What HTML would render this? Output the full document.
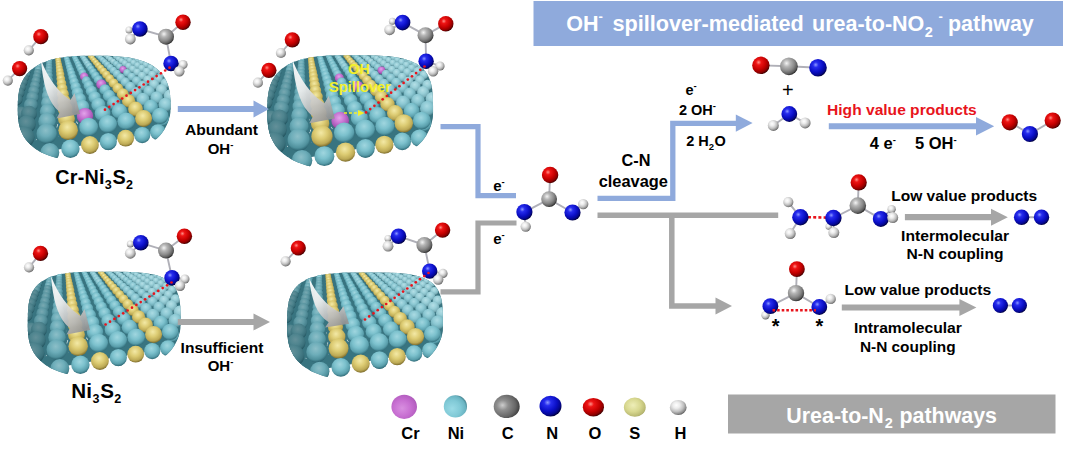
<!DOCTYPE html>
<html><head><meta charset="utf-8"><title>Urea oxidation pathways</title>
<style>
html,body{margin:0;padding:0;background:#fff;}
body{width:1080px;height:449px;overflow:hidden;}
svg{display:block;}
text{font-family:"Liberation Sans",sans-serif;font-weight:bold;}
</style></head><body>
<svg width="1080" height="449" viewBox="0 0 1080 449">
<rect width="1080" height="449" fill="#ffffff"/>
<defs>
<radialGradient id="gNi" cx="0.45" cy="0.34" r="0.66"><stop offset="0" stop-color="#a0d6df"/><stop offset="0.45" stop-color="#7cc1cd"/><stop offset="0.8" stop-color="#5a9fac"/><stop offset="1" stop-color="#2f6b78"/></radialGradient>
<radialGradient id="gS" cx="0.45" cy="0.34" r="0.66"><stop offset="0" stop-color="#f3e9a6"/><stop offset="0.45" stop-color="#dccb72"/><stop offset="0.8" stop-color="#bca955"/><stop offset="1" stop-color="#7d6c2c"/></radialGradient>
<radialGradient id="gCr" cx="0.45" cy="0.34" r="0.66"><stop offset="0" stop-color="#e3a3ea"/><stop offset="0.45" stop-color="#c673d2"/><stop offset="0.8" stop-color="#a455b2"/><stop offset="1" stop-color="#6b2f78"/></radialGradient>
<radialGradient id="mO" cx="0.37" cy="0.33" r="0.7"><stop offset="0" stop-color="#ff9088"/><stop offset="0.22" stop-color="#ee1414"/><stop offset="0.6" stop-color="#c40000"/><stop offset="0.85" stop-color="#8a0000"/><stop offset="1" stop-color="#3c0000"/></radialGradient>
<radialGradient id="mN" cx="0.37" cy="0.33" r="0.7"><stop offset="0" stop-color="#8c98ff"/><stop offset="0.22" stop-color="#262cee"/><stop offset="0.6" stop-color="#0a0ec4"/><stop offset="0.85" stop-color="#04068a"/><stop offset="1" stop-color="#000036"/></radialGradient>
<radialGradient id="mC" cx="0.37" cy="0.33" r="0.7"><stop offset="0" stop-color="#f4f4f4"/><stop offset="0.28" stop-color="#b6b6b6"/><stop offset="0.62" stop-color="#8a8a8a"/><stop offset="0.86" stop-color="#5c5c5c"/><stop offset="1" stop-color="#262626"/></radialGradient>
<radialGradient id="mH" cx="0.39" cy="0.35" r="0.7"><stop offset="0" stop-color="#ffffff"/><stop offset="0.3" stop-color="#ececec"/><stop offset="0.62" stop-color="#c0c0c0"/><stop offset="0.85" stop-color="#8a8a8a"/><stop offset="1" stop-color="#4c4c4c"/></radialGradient>
<radialGradient id="lCr" cx="0.42" cy="0.56" r="0.66"><stop offset="0" stop-color="#d88fe0"/><stop offset="0.5" stop-color="#c870d2"/><stop offset="0.85" stop-color="#b45ec0"/><stop offset="1" stop-color="#9248a0"/></radialGradient>
<radialGradient id="lNi" cx="0.36" cy="0.6" r="0.74"><stop offset="0" stop-color="#9adbe6"/><stop offset="0.5" stop-color="#80c9d6"/><stop offset="0.78" stop-color="#6ab4c2"/><stop offset="0.9" stop-color="#468692"/><stop offset="0.97" stop-color="#1c424a"/><stop offset="1" stop-color="#081418"/></radialGradient>
<radialGradient id="lC" cx="0.34" cy="0.45" r="0.72"><stop offset="0" stop-color="#cdcdcd"/><stop offset="0.3" stop-color="#8f8f8f"/><stop offset="0.7" stop-color="#666666"/><stop offset="0.9" stop-color="#444444"/><stop offset="1" stop-color="#202020"/></radialGradient>
<radialGradient id="lS" cx="0.42" cy="0.4" r="0.68"><stop offset="0" stop-color="#eeeeb8"/><stop offset="0.5" stop-color="#d8d890"/><stop offset="0.85" stop-color="#b9b972"/><stop offset="1" stop-color="#85853f"/></radialGradient>
<linearGradient id="swoosh" x1="0.2" y1="0" x2="0.7" y2="1"><stop offset="0" stop-color="#ffffff"/><stop offset="0.4" stop-color="#ececec"/><stop offset="0.75" stop-color="#bcbcbc"/><stop offset="1" stop-color="#949494"/></linearGradient>
<radialGradient id="gNi1" cx="0.45" cy="0.34" r="0.66"><stop offset="0" stop-color="#8cbfc8"/><stop offset="0.45" stop-color="#6dadb9"/><stop offset="0.8" stop-color="#4f909c"/><stop offset="1" stop-color="#2a626f"/></radialGradient>
<radialGradient id="gNi2" cx="0.45" cy="0.34" r="0.66"><stop offset="0" stop-color="#78a9b2"/><stop offset="0.45" stop-color="#5e99a4"/><stop offset="0.8" stop-color="#45808c"/><stop offset="1" stop-color="#255a65"/></radialGradient>
<radialGradient id="gNi3" cx="0.45" cy="0.34" r="0.66"><stop offset="0" stop-color="#639099"/><stop offset="0.45" stop-color="#4e848e"/><stop offset="0.8" stop-color="#396f7a"/><stop offset="1" stop-color="#1f505b"/></radialGradient>
<radialGradient id="gNi4" cx="0.45" cy="0.34" r="0.66"><stop offset="0" stop-color="#abdbe3"/><stop offset="0.45" stop-color="#8cc8d3"/><stop offset="0.8" stop-color="#6eabb6"/><stop offset="1" stop-color="#487d88"/></radialGradient>
<radialGradient id="gNi5" cx="0.45" cy="0.34" r="0.66"><stop offset="0" stop-color="#b5dfe6"/><stop offset="0.45" stop-color="#99cfd8"/><stop offset="0.8" stop-color="#7eb4be"/><stop offset="1" stop-color="#5d8c96"/></radialGradient>
<clipPath id="c1"><path d="M170.6 108.5 L170.4 112 L169.9 115.4 L169.1 118.8 L168 122.2 L166.5 125.5 L164.8 128.7 L162.7 131.9 L160.4 134.9 L157.7 137.8 L154.8 140.6 L151.6 143.3 L148.2 145.8 L144.6 148.2 L140.7 150.4 L136.6 152.4 L132.4 154.2 L128 155.9 L123.4 157.3 L118.8 158.5 L114 159.5 L109.1 160.3 L104.2 160.8 L99.2 161.2 L94.2 161.3 L84.8 161.2 L78.2 161 L72.5 160.5 L67.2 159.9 L62.3 159.1 L57.7 158.2 L53.4 157.1 L49.4 155.8 L45.6 154.3 L42 152.7 L38.7 150.9 L35.7 148.9 L32.9 146.8 L30.3 144.5 L27.9 142.1 L25.8 139.5 L23.9 136.7 L22.3 133.7 L20.9 130.6 L19.8 127.2 L18.9 123.5 L18.3 119.5 L17.9 115 L17.8 108.5 L17.9 101 L18.3 96.2 L18.9 92.1 L19.7 88.4 L20.7 85 L22 81.9 L23.5 79 L25.3 76.3 L27.2 73.8 L29.4 71.5 L31.9 69.3 L34.6 67.3 L37.5 65.4 L40.6 63.7 L44 62.2 L47.6 60.9 L51.5 59.6 L55.7 58.6 L60.2 57.7 L65.1 57 L70.4 56.4 L76.4 56 L83.3 55.8 L94.2 55.7 L105.8 55.8 L113 56 L119 56.4 L124.3 56.9 L129.1 57.6 L133.6 58.5 L137.7 59.5 L141.6 60.7 L145.1 62 L148.5 63.5 L151.5 65.1 L154.4 66.9 L157 68.9 L159.3 71 L161.5 73.3 L163.4 75.8 L165.1 78.4 L166.5 81.3 L167.8 84.4 L168.8 87.7 L169.6 91.4 L170.1 95.5 L170.5 100.4Z"/></clipPath>
<clipPath id="c2"><path d="M170.6 108.5 L170.4 112 L169.9 115.4 L169.1 118.8 L168 122.2 L166.5 125.5 L164.8 128.7 L162.7 131.9 L160.4 134.9 L157.7 137.8 L154.8 140.6 L151.6 143.3 L148.2 145.8 L144.6 148.2 L140.7 150.4 L136.6 152.4 L132.4 154.2 L128 155.9 L123.4 157.3 L118.8 158.5 L114 159.5 L109.1 160.3 L104.2 160.8 L99.2 161.2 L94.2 161.3 L84.8 161.2 L78.2 161 L72.5 160.5 L67.2 159.9 L62.3 159.1 L57.7 158.2 L53.4 157.1 L49.4 155.8 L45.6 154.3 L42 152.7 L38.7 150.9 L35.7 148.9 L32.9 146.8 L30.3 144.5 L27.9 142.1 L25.8 139.5 L23.9 136.7 L22.3 133.7 L20.9 130.6 L19.8 127.2 L18.9 123.5 L18.3 119.5 L17.9 115 L17.8 108.5 L17.9 99.9 L18.2 94.9 L18.8 90.7 L19.5 87.1 L20.5 83.7 L21.7 80.7 L23.1 77.8 L24.8 75.2 L26.6 72.8 L28.7 70.6 L31 68.5 L33.6 66.6 L36.3 64.8 L39.3 63.3 L42.6 61.8 L46.1 60.5 L49.8 59.4 L53.9 58.4 L58.3 57.6 L63.2 56.9 L68.5 56.4 L74.5 56 L81.8 55.8 L94.2 55.7 L111 55.8 L118.8 56 L125 56.3 L130.3 56.7 L134.9 57.3 L139 58 L142.8 58.8 L146.2 59.8 L149.3 60.8 L152.2 62.1 L154.8 63.4 L157.2 64.9 L159.4 66.6 L161.4 68.4 L163.2 70.4 L164.7 72.6 L166.1 74.9 L167.3 77.5 L168.3 80.4 L169.1 83.6 L169.8 87.2 L170.2 91.5 L170.5 96.9Z"/></clipPath>
<clipPath id="c3"><path d="M170.6 108.5 L170.4 112 L169.9 115.4 L169.1 118.8 L168 122.2 L166.5 125.5 L164.8 128.7 L162.7 131.9 L160.4 134.9 L157.7 137.8 L154.8 140.6 L151.6 143.3 L148.2 145.8 L144.6 148.2 L140.7 150.4 L136.6 152.4 L132.4 154.2 L128 155.9 L123.4 157.3 L118.8 158.5 L114 159.5 L109.1 160.3 L104.2 160.8 L99.2 161.2 L94.2 161.3 L84.8 161.2 L78.2 161 L72.5 160.5 L67.2 159.9 L62.3 159.1 L57.7 158.2 L53.4 157.1 L49.4 155.8 L45.6 154.3 L42 152.7 L38.7 150.9 L35.7 148.9 L32.9 146.8 L30.3 144.5 L27.9 142.1 L25.8 139.5 L23.9 136.7 L22.3 133.7 L20.9 130.6 L19.8 127.2 L18.9 123.5 L18.3 119.5 L17.9 115 L17.8 108.5 L17.9 97.9 L18.2 92.6 L18.7 88.3 L19.3 84.7 L20.2 81.4 L21.3 78.5 L22.5 75.8 L24 73.4 L25.7 71.1 L27.5 69.1 L29.6 67.2 L31.9 65.4 L34.4 63.9 L37.1 62.4 L40.1 61.1 L43.4 60 L46.9 59 L50.8 58.1 L55 57.4 L59.7 56.8 L65 56.3 L71.1 56 L78.8 55.8 L94.2 55.7 L112.4 55.8 L120.4 55.9 L126.5 56.2 L131.7 56.7 L136.2 57.2 L140.3 57.9 L143.9 58.6 L147.2 59.5 L150.3 60.6 L153 61.8 L155.6 63.1 L157.9 64.5 L160 66.1 L161.8 67.8 L163.5 69.7 L165 71.8 L166.3 74.1 L167.5 76.7 L168.4 79.4 L169.2 82.6 L169.8 86.2 L170.3 90.4 L170.5 95.9Z"/></clipPath>
<clipPath id="c4"><path d="M170.6 108.5 L170.4 112 L169.9 115.4 L169.1 118.8 L168 122.2 L166.5 125.5 L164.8 128.7 L162.7 131.9 L160.4 134.9 L157.7 137.8 L154.8 140.6 L151.6 143.3 L148.2 145.8 L144.6 148.2 L140.7 150.4 L136.6 152.4 L132.4 154.2 L128 155.9 L123.4 157.3 L118.8 158.5 L114 159.5 L109.1 160.3 L104.2 160.8 L99.2 161.2 L94.2 161.3 L84.8 161.2 L78.2 161 L72.5 160.5 L67.2 159.9 L62.3 159.1 L57.7 158.2 L53.4 157.1 L49.4 155.8 L45.6 154.3 L42 152.7 L38.7 150.9 L35.7 148.9 L32.9 146.8 L30.3 144.5 L27.9 142.1 L25.8 139.5 L23.9 136.7 L22.3 133.7 L20.9 130.6 L19.8 127.2 L18.9 123.5 L18.3 119.5 L17.9 115 L17.8 108.5 L17.9 97.9 L18.2 92.6 L18.7 88.3 L19.3 84.7 L20.2 81.4 L21.3 78.5 L22.5 75.8 L24 73.4 L25.7 71.1 L27.5 69.1 L29.6 67.2 L31.9 65.4 L34.4 63.9 L37.1 62.4 L40.1 61.1 L43.4 60 L46.9 59 L50.8 58.1 L55 57.4 L59.7 56.8 L65 56.3 L71.1 56 L78.8 55.8 L94.2 55.7 L112.4 55.8 L120.4 55.9 L126.5 56.2 L131.7 56.7 L136.2 57.2 L140.3 57.9 L143.9 58.6 L147.2 59.5 L150.3 60.6 L153 61.8 L155.6 63.1 L157.9 64.5 L160 66.1 L161.8 67.8 L163.5 69.7 L165 71.8 L166.3 74.1 L167.5 76.7 L168.4 79.4 L169.2 82.6 L169.8 86.2 L170.3 90.4 L170.5 95.9Z"/></clipPath>
<g id="slabNi"><g>
<path d="M49.4 56.7m-4.5 0a4.5 4.5 0 1 0 8.9 0a4.5 4.5 0 1 0 -8.9 0M57.6 56.2m-4.4 0a4.4 4.4 0 1 0 8.8 0a4.4 4.4 0 1 0 -8.8 0M65.7 55.7m-4.4 0a4.4 4.4 0 1 0 8.7 0a4.4 4.4 0 1 0 -8.7 0M73.5 55.2m-4.3 0a4.3 4.3 0 1 0 8.6 0a4.3 4.3 0 1 0 -8.6 0M40.5 59.2m-4.7 0a4.7 4.7 0 1 0 9.4 0a4.7 4.7 0 1 0 -9.4 0M49.3 58.7m-4.7 0a4.7 4.7 0 1 0 9.3 0a4.7 4.7 0 1 0 -9.3 0M57.9 58.2m-4.6 0a4.6 4.6 0 1 0 9.2 0a4.6 4.6 0 1 0 -9.2 0M66.3 57.6m-4.6 0a4.6 4.6 0 1 0 9.1 0a4.6 4.6 0 1 0 -9.1 0M74.5 57.1m-4.5 0a4.5 4.5 0 1 0 9 0a4.5 4.5 0 1 0 -9 0M82.5 56.6m-4.5 0a4.5 4.5 0 1 0 8.9 0a4.5 4.5 0 1 0 -8.9 0M90.4 56.1m-4.4 0a4.4 4.4 0 1 0 8.8 0a4.4 4.4 0 1 0 -8.8 0M98.1 55.7m-4.4 0a4.4 4.4 0 1 0 8.7 0a4.4 4.4 0 1 0 -8.7 0M105.6 55.2m-4.3 0a4.3 4.3 0 1 0 8.6 0a4.3 4.3 0 1 0 -8.6 0M30.7 62.1m-5 0a5 5 0 1 0 10 0a5 5 0 1 0 -10 0M40.1 61.5m-4.9 0a4.9 4.9 0 1 0 9.8 0a4.9 4.9 0 1 0 -9.8 0M49.2 60.9m-4.9 0a4.9 4.9 0 1 0 9.7 0a4.9 4.9 0 1 0 -9.7 0M58.2 60.3m-4.8 0a4.8 4.8 0 1 0 9.6 0a4.8 4.8 0 1 0 -9.6 0M67 59.7m-4.8 0a4.8 4.8 0 1 0 9.5 0a4.8 4.8 0 1 0 -9.5 0M75.5 59.2m-4.7 0a4.7 4.7 0 1 0 9.4 0a4.7 4.7 0 1 0 -9.4 0M83.9 58.7m-4.7 0a4.7 4.7 0 1 0 9.3 0a4.7 4.7 0 1 0 -9.3 0M92.1 58.1m-4.6 0a4.6 4.6 0 1 0 9.2 0a4.6 4.6 0 1 0 -9.2 0M100.1 57.6m-4.6 0a4.6 4.6 0 1 0 9.1 0a4.6 4.6 0 1 0 -9.1 0M107.9 57.1m-4.5 0a4.5 4.5 0 1 0 9 0a4.5 4.5 0 1 0 -9 0M115.6 56.6m-4.5 0a4.5 4.5 0 1 0 8.9 0a4.5 4.5 0 1 0 -8.9 0M123.1 56.1m-4.4 0a4.4 4.4 0 1 0 8.8 0a4.4 4.4 0 1 0 -8.8 0M29.7 64.6m-5.2 0a5.2 5.2 0 1 0 10.4 0a5.2 5.2 0 1 0 -10.4 0M39.5 64m-5.2 0a5.2 5.2 0 1 0 10.3 0a5.2 5.2 0 1 0 -10.3 0M49.2 63.3m-5.1 0a5.1 5.1 0 1 0 10.2 0a5.1 5.1 0 1 0 -10.2 0M58.5 62.7m-5 0a5 5 0 1 0 10.1 0a5 5 0 1 0 -10.1 0M67.7 62.1m-5 0a5 5 0 1 0 10 0a5 5 0 1 0 -10 0M76.6 61.4m-4.9 0a4.9 4.9 0 1 0 9.8 0a4.9 4.9 0 1 0 -9.8 0M85.4 60.9m-4.9 0a4.9 4.9 0 1 0 9.7 0a4.9 4.9 0 1 0 -9.7 0M93.9 60.3m-4.8 0a4.8 4.8 0 1 0 9.6 0a4.8 4.8 0 1 0 -9.6 0M102.3 59.7m-4.8 0a4.8 4.8 0 1 0 9.5 0a4.8 4.8 0 1 0 -9.5 0M110.4 59.2m-4.7 0a4.7 4.7 0 1 0 9.4 0a4.7 4.7 0 1 0 -9.4 0M118.4 58.6m-4.6 0a4.6 4.6 0 1 0 9.3 0a4.6 4.6 0 1 0 -9.3 0M126.2 58.1m-4.6 0a4.6 4.6 0 1 0 9.2 0a4.6 4.6 0 1 0 -9.2 0M133.9 57.6m-4.5 0a4.5 4.5 0 1 0 9.1 0a4.5 4.5 0 1 0 -9.1 0M28.6 67.4m-5.5 0a5.5 5.5 0 1 0 11 0a5.5 5.5 0 1 0 -11 0M39 66.7m-5.4 0a5.4 5.4 0 1 0 10.8 0a5.4 5.4 0 1 0 -10.8 0M49.1 66m-5.3 0a5.3 5.3 0 1 0 10.7 0a5.3 5.3 0 1 0 -10.7 0M58.9 65.3m-5.3 0a5.3 5.3 0 1 0 10.6 0a5.3 5.3 0 1 0 -10.6 0M68.5 64.6m-5.2 0a5.2 5.2 0 1 0 10.4 0a5.2 5.2 0 1 0 -10.4 0M77.9 63.9m-5.2 0a5.2 5.2 0 1 0 10.3 0a5.2 5.2 0 1 0 -10.3 0M87 63.3m-5.1 0a5.1 5.1 0 1 0 10.2 0a5.1 5.1 0 1 0 -10.2 0M95.9 62.6m-5 0a5 5 0 1 0 10.1 0a5 5 0 1 0 -10.1 0M104.6 62m-5 0a5 5 0 1 0 9.9 0a5 5 0 1 0 -9.9 0M113.1 61.4m-4.9 0a4.9 4.9 0 1 0 9.8 0a4.9 4.9 0 1 0 -9.8 0M121.5 60.8m-4.9 0a4.9 4.9 0 1 0 9.7 0a4.9 4.9 0 1 0 -9.7 0M129.6 60.2m-4.8 0a4.8 4.8 0 1 0 9.6 0a4.8 4.8 0 1 0 -9.6 0M137.5 59.7m-4.7 0a4.7 4.7 0 1 0 9.5 0a4.7 4.7 0 1 0 -9.5 0M145.3 59.1m-4.7 0a4.7 4.7 0 1 0 9.4 0a4.7 4.7 0 1 0 -9.4 0M27.4 70.5m-5.8 0a5.8 5.8 0 1 0 11.6 0a5.8 5.8 0 1 0 -11.6 0M38.3 69.7m-5.7 0a5.7 5.7 0 1 0 11.4 0a5.7 5.7 0 1 0 -11.4 0M49 68.9m-5.6 0a5.6 5.6 0 1 0 11.3 0a5.6 5.6 0 1 0 -11.3 0M59.3 68.1m-5.6 0a5.6 5.6 0 1 0 11.1 0a5.6 5.6 0 1 0 -11.1 0M69.4 67.4m-5.5 0a5.5 5.5 0 1 0 11 0a5.5 5.5 0 1 0 -11 0M79.2 66.6m-5.4 0a5.4 5.4 0 1 0 10.8 0a5.4 5.4 0 1 0 -10.8 0M88.8 65.9m-5.3 0a5.3 5.3 0 1 0 10.7 0a5.3 5.3 0 1 0 -10.7 0M98.1 65.2m-5.3 0a5.3 5.3 0 1 0 10.6 0a5.3 5.3 0 1 0 -10.6 0M107.2 64.5m-5.2 0a5.2 5.2 0 1 0 10.4 0a5.2 5.2 0 1 0 -10.4 0M116.1 63.9m-5.1 0a5.1 5.1 0 1 0 10.3 0a5.1 5.1 0 1 0 -10.3 0M124.8 63.2m-5.1 0a5.1 5.1 0 1 0 10.2 0a5.1 5.1 0 1 0 -10.2 0M133.3 62.6m-5 0a5 5 0 1 0 10.1 0a5 5 0 1 0 -10.1 0M141.5 62m-5 0a5 5 0 1 0 9.9 0a5 5 0 1 0 -9.9 0M149.6 61.4m-4.9 0a4.9 4.9 0 1 0 9.8 0a4.9 4.9 0 1 0 -9.8 0M26.1 73.9m-6.1 0a6.1 6.1 0 1 0 12.2 0a6.1 6.1 0 1 0 -12.2 0M37.6 73m-6 0a6 6 0 1 0 12.1 0a6 6 0 1 0 -12.1 0M48.8 72.1m-5.9 0a5.9 5.9 0 1 0 11.9 0a5.9 5.9 0 1 0 -11.9 0M59.8 71.3m-5.9 0a5.9 5.9 0 1 0 11.7 0a5.9 5.9 0 1 0 -11.7 0M70.4 70.4m-5.8 0a5.8 5.8 0 1 0 11.6 0a5.8 5.8 0 1 0 -11.6 0M80.7 69.6m-5.7 0a5.7 5.7 0 1 0 11.4 0a5.7 5.7 0 1 0 -11.4 0M90.8 68.8m-5.6 0a5.6 5.6 0 1 0 11.2 0a5.6 5.6 0 1 0 -11.2 0M100.6 68.1m-5.6 0a5.6 5.6 0 1 0 11.1 0a5.6 5.6 0 1 0 -11.1 0M110.1 67.3m-5.5 0a5.5 5.5 0 1 0 11 0a5.5 5.5 0 1 0 -11 0M119.4 66.6m-5.4 0a5.4 5.4 0 1 0 10.8 0a5.4 5.4 0 1 0 -10.8 0M128.5 65.9m-5.3 0a5.3 5.3 0 1 0 10.7 0a5.3 5.3 0 1 0 -10.7 0M137.3 65.2m-5.3 0a5.3 5.3 0 1 0 10.5 0a5.3 5.3 0 1 0 -10.5 0M145.9 64.5m-5.2 0a5.2 5.2 0 1 0 10.4 0a5.2 5.2 0 1 0 -10.4 0M154.3 63.8m-5.1 0a5.1 5.1 0 1 0 10.3 0a5.1 5.1 0 1 0 -10.3 0M24.6 77.8m-6.5 0a6.5 6.5 0 1 0 13 0a6.5 6.5 0 1 0 -13 0M36.8 76.8m-6.4 0a6.4 6.4 0 1 0 12.8 0a6.4 6.4 0 1 0 -12.8 0M48.7 75.8m-6.3 0a6.3 6.3 0 1 0 12.6 0a6.3 6.3 0 1 0 -12.6 0M60.3 74.8m-6.2 0a6.2 6.2 0 1 0 12.4 0a6.2 6.2 0 1 0 -12.4 0M71.5 73.9m-6.1 0a6.1 6.1 0 1 0 12.2 0a6.1 6.1 0 1 0 -12.2 0M82.4 73m-6 0a6 6 0 1 0 12 0a6 6 0 1 0 -12 0M93 72.1m-5.9 0a5.9 5.9 0 1 0 11.9 0a5.9 5.9 0 1 0 -11.9 0M103.3 71.2m-5.9 0a5.9 5.9 0 1 0 11.7 0a5.9 5.9 0 1 0 -11.7 0M113.3 70.4m-5.8 0a5.8 5.8 0 1 0 11.5 0a5.8 5.8 0 1 0 -11.5 0M123 69.6m-5.7 0a5.7 5.7 0 1 0 11.4 0a5.7 5.7 0 1 0 -11.4 0M132.5 68.8m-5.6 0a5.6 5.6 0 1 0 11.2 0a5.6 5.6 0 1 0 -11.2 0M141.7 68m-5.5 0a5.5 5.5 0 1 0 11.1 0a5.5 5.5 0 1 0 -11.1 0M150.7 67.3m-5.5 0a5.5 5.5 0 1 0 10.9 0a5.5 5.5 0 1 0 -10.9 0M159.5 66.5m-5.4 0a5.4 5.4 0 1 0 10.8 0a5.4 5.4 0 1 0 -10.8 0M22.9 82.1m-6.9 0a6.9 6.9 0 1 0 13.8 0a6.9 6.9 0 1 0 -13.8 0M35.9 81m-6.8 0a6.8 6.8 0 1 0 13.6 0a6.8 6.8 0 1 0 -13.6 0M48.6 79.9m-6.7 0a6.7 6.7 0 1 0 13.4 0a6.7 6.7 0 1 0 -13.4 0M60.8 78.8m-6.6 0a6.6 6.6 0 1 0 13.2 0a6.6 6.6 0 1 0 -13.2 0M72.7 77.7m-6.5 0a6.5 6.5 0 1 0 12.9 0a6.5 6.5 0 1 0 -12.9 0M84.2 76.7m-6.4 0a6.4 6.4 0 1 0 12.8 0a6.4 6.4 0 1 0 -12.8 0M95.4 75.7m-6.3 0a6.3 6.3 0 1 0 12.6 0a6.3 6.3 0 1 0 -12.6 0M106.3 74.8m-6.2 0a6.2 6.2 0 1 0 12.4 0a6.2 6.2 0 1 0 -12.4 0M116.8 73.8m-6.1 0a6.1 6.1 0 1 0 12.2 0a6.1 6.1 0 1 0 -12.2 0M127.1 72.9m-6 0a6 6 0 1 0 12 0a6 6 0 1 0 -12 0M137 72m-5.9 0a5.9 5.9 0 1 0 11.9 0a5.9 5.9 0 1 0 -11.9 0M146.7 71.2m-5.8 0a5.8 5.8 0 1 0 11.7 0a5.8 5.8 0 1 0 -11.7 0M156.1 70.3m-5.8 0a5.8 5.8 0 1 0 11.5 0a5.8 5.8 0 1 0 -11.5 0M20.9 87.1m-7.4 0a7.4 7.4 0 1 0 14.7 0a7.4 7.4 0 1 0 -14.7 0M34.9 85.8m-7.2 0a7.2 7.2 0 1 0 14.5 0a7.2 7.2 0 1 0 -14.5 0M48.4 84.5m-7.1 0a7.1 7.1 0 1 0 14.2 0a7.1 7.1 0 1 0 -14.2 0M61.5 83.3m-7 0a7 7 0 1 0 14 0a7 7 0 1 0 -14 0M74.1 82.1m-6.9 0a6.9 6.9 0 1 0 13.8 0a6.9 6.9 0 1 0 -13.8 0M86.3 80.9m-6.8 0a6.8 6.8 0 1 0 13.6 0a6.8 6.8 0 1 0 -13.6 0M98.2 79.8m-6.7 0a6.7 6.7 0 1 0 13.3 0a6.7 6.7 0 1 0 -13.3 0M109.7 78.7m-6.6 0a6.6 6.6 0 1 0 13.1 0a6.6 6.6 0 1 0 -13.1 0M120.8 77.7m-6.5 0a6.5 6.5 0 1 0 12.9 0a6.5 6.5 0 1 0 -12.9 0M131.6 76.6m-6.4 0a6.4 6.4 0 1 0 12.7 0a6.4 6.4 0 1 0 -12.7 0M142 75.7m-6.3 0a6.3 6.3 0 1 0 12.6 0a6.3 6.3 0 1 0 -12.6 0M152.2 74.7m-6.2 0a6.2 6.2 0 1 0 12.4 0a6.2 6.2 0 1 0 -12.4 0M162.1 73.8m-6.1 0a6.1 6.1 0 1 0 12.2 0a6.1 6.1 0 1 0 -12.2 0M18.7 92.8m-7.9 0a7.9 7.9 0 1 0 15.8 0a7.9 7.9 0 1 0 -15.8 0M33.7 91.2m-7.8 0a7.8 7.8 0 1 0 15.5 0a7.8 7.8 0 1 0 -15.5 0M48.2 89.8m-7.6 0a7.6 7.6 0 1 0 15.3 0a7.6 7.6 0 1 0 -15.3 0M62.2 88.4m-7.5 0a7.5 7.5 0 1 0 15 0a7.5 7.5 0 1 0 -15 0M75.7 87m-7.4 0a7.4 7.4 0 1 0 14.7 0a7.4 7.4 0 1 0 -14.7 0M88.7 85.7m-7.2 0a7.2 7.2 0 1 0 14.5 0a7.2 7.2 0 1 0 -14.5 0M101.3 84.4m-7.1 0a7.1 7.1 0 1 0 14.2 0a7.1 7.1 0 1 0 -14.2 0M113.5 83.2m-7 0a7 7 0 1 0 14 0a7 7 0 1 0 -14 0M125.2 82m-6.9 0a6.9 6.9 0 1 0 13.8 0a6.9 6.9 0 1 0 -13.8 0M136.6 80.8m-6.8 0a6.8 6.8 0 1 0 13.5 0a6.8 6.8 0 1 0 -13.5 0M147.7 79.7m-6.7 0a6.7 6.7 0 1 0 13.3 0a6.7 6.7 0 1 0 -13.3 0M158.4 78.6m-6.6 0a6.6 6.6 0 1 0 13.1 0a6.6 6.6 0 1 0 -13.1 0M16.2 99.3m-8.5 0a8.5 8.5 0 1 0 17.1 0a8.5 8.5 0 1 0 -17.1 0M32.4 97.6m-8.4 0a8.4 8.4 0 1 0 16.7 0a8.4 8.4 0 1 0 -16.7 0M48 95.9m-8.2 0a8.2 8.2 0 1 0 16.4 0a8.2 8.2 0 1 0 -16.4 0M63 94.2m-8.1 0a8.1 8.1 0 1 0 16.1 0a8.1 8.1 0 1 0 -16.1 0M77.5 92.7m-7.9 0a7.9 7.9 0 1 0 15.8 0a7.9 7.9 0 1 0 -15.8 0M91.4 91.2m-7.8 0a7.8 7.8 0 1 0 15.5 0a7.8 7.8 0 1 0 -15.5 0M104.9 89.7m-7.6 0a7.6 7.6 0 1 0 15.2 0a7.6 7.6 0 1 0 -15.2 0M117.8 88.3m-7.5 0a7.5 7.5 0 1 0 15 0a7.5 7.5 0 1 0 -15 0M130.3 86.9m-7.4 0a7.4 7.4 0 1 0 14.7 0a7.4 7.4 0 1 0 -14.7 0M142.4 85.6m-7.2 0a7.2 7.2 0 1 0 14.5 0a7.2 7.2 0 1 0 -14.5 0M154.1 84.3m-7.1 0a7.1 7.1 0 1 0 14.2 0a7.1 7.1 0 1 0 -14.2 0M165.4 83.1m-7 0a7 7 0 1 0 14 0a7 7 0 1 0 -14 0M18.6 107.3m-7.2 0a7.2 7.2 0 1 0 14.4 0a7.2 7.2 0 1 0 -14.4 0M21.1 113m-5.8 0a5.8 5.8 0 1 0 11.6 0a5.8 5.8 0 1 0 -11.6 0M30.8 105m-9.1 0a9.1 9.1 0 1 0 18.2 0a9.1 9.1 0 1 0 -18.2 0M47.8 103m-8.9 0a8.9 8.9 0 1 0 17.8 0a8.9 8.9 0 1 0 -17.8 0M64 101.1m-8.7 0a8.7 8.7 0 1 0 17.4 0a8.7 8.7 0 1 0 -17.4 0M79.6 99.2m-8.5 0a8.5 8.5 0 1 0 17.1 0a8.5 8.5 0 1 0 -17.1 0M94.6 97.5m-8.4 0a8.4 8.4 0 1 0 16.7 0a8.4 8.4 0 1 0 -16.7 0M109 95.8m-8.2 0a8.2 8.2 0 1 0 16.4 0a8.2 8.2 0 1 0 -16.4 0M122.8 94.1m-8 0a8 8 0 1 0 16.1 0a8 8 0 1 0 -16.1 0M136.1 92.6m-7.9 0a7.9 7.9 0 1 0 15.8 0a7.9 7.9 0 1 0 -15.8 0M149 91.1m-7.7 0a7.7 7.7 0 1 0 15.5 0a7.7 7.7 0 1 0 -15.5 0M161.4 89.6m-7.6 0a7.6 7.6 0 1 0 15.2 0a7.6 7.6 0 1 0 -15.2 0M29 113.7m-9.9 0a9.9 9.9 0 1 0 19.8 0a9.9 9.9 0 1 0 -19.8 0M47.5 111.4m-9.7 0a9.7 9.7 0 1 0 19.4 0a9.7 9.7 0 1 0 -19.4 0M65.2 109.1m-9.5 0a9.5 9.5 0 1 0 18.9 0a9.5 9.5 0 1 0 -18.9 0M82.1 106.9m-9.3 0a9.3 9.3 0 1 0 18.5 0a9.3 9.3 0 1 0 -18.5 0M98.3 104.8m-9.1 0a9.1 9.1 0 1 0 18.1 0a9.1 9.1 0 1 0 -18.1 0M113.8 102.9m-8.9 0a8.9 8.9 0 1 0 17.8 0a8.9 8.9 0 1 0 -17.8 0M128.6 100.9m-8.7 0a8.7 8.7 0 1 0 17.4 0a8.7 8.7 0 1 0 -17.4 0M142.9 99.1m-8.5 0a8.5 8.5 0 1 0 17 0a8.5 8.5 0 1 0 -17 0M156.6 97.4m-8.4 0a8.4 8.4 0 1 0 16.7 0a8.4 8.4 0 1 0 -16.7 0M169.8 95.7m-8.2 0a8.2 8.2 0 1 0 16.4 0a8.2 8.2 0 1 0 -16.4 0M26.7 124.3m-10.9 0a10.9 10.9 0 1 0 21.9 0a10.9 10.9 0 1 0 -21.9 0M47.1 121.4m-10.7 0a10.7 10.7 0 1 0 21.3 0a10.7 10.7 0 1 0 -21.3 0M66.5 118.7m-10.4 0a10.4 10.4 0 1 0 20.8 0a10.4 10.4 0 1 0 -20.8 0M85 116.1m-10.1 0a10.1 10.1 0 1 0 20.3 0a10.1 10.1 0 1 0 -20.3 0M102.6 113.6m-9.9 0a9.9 9.9 0 1 0 19.8 0a9.9 9.9 0 1 0 -19.8 0M119.4 111.2m-9.7 0a9.7 9.7 0 1 0 19.4 0a9.7 9.7 0 1 0 -19.4 0M135.5 109m-9.5 0a9.5 9.5 0 1 0 18.9 0a9.5 9.5 0 1 0 -18.9 0M150.8 106.8m-9.3 0a9.3 9.3 0 1 0 18.5 0a9.3 9.3 0 1 0 -18.5 0M165.5 104.7m-9.1 0a9.1 9.1 0 1 0 18.1 0a9.1 9.1 0 1 0 -18.1 0M163.9 113.1m-7.7 0a7.7 7.7 0 1 0 15.5 0a7.7 7.7 0 1 0 -15.5 0M162.3 119.2m-6.2 0a6.2 6.2 0 1 0 12.4 0a6.2 6.2 0 1 0 -12.4 0M24 137.2m-12.2 0a12.2 12.2 0 1 0 24.3 0a12.2 12.2 0 1 0 -24.3 0M46.7 133.7m-11.8 0a11.8 11.8 0 1 0 23.6 0a11.8 11.8 0 1 0 -23.6 0M68.2 130.3m-11.5 0a11.5 11.5 0 1 0 23 0a11.5 11.5 0 1 0 -23 0M88.6 127.1m-11.2 0a11.2 11.2 0 1 0 22.4 0a11.2 11.2 0 1 0 -22.4 0M107.9 124.1m-10.9 0a10.9 10.9 0 1 0 21.8 0a10.9 10.9 0 1 0 -21.8 0M126.2 121.2m-10.6 0a10.6 10.6 0 1 0 21.3 0a10.6 10.6 0 1 0 -21.3 0M143.6 118.5m-10.4 0a10.4 10.4 0 1 0 20.7 0a10.4 10.4 0 1 0 -20.7 0M160.2 115.9m-10.1 0a10.1 10.1 0 1 0 20.2 0a10.1 10.1 0 1 0 -20.2 0M26 148.5m-11 0a11 11 0 1 0 22 0a11 11 0 1 0 -22 0M48.3 144.7m-10.7 0a10.7 10.7 0 1 0 21.3 0a10.7 10.7 0 1 0 -21.3 0M69.3 141m-10.3 0a10.3 10.3 0 1 0 20.6 0a10.3 10.3 0 1 0 -20.6 0M89.2 137.5m-10 0a10 10 0 1 0 20 0a10 10 0 1 0 -20 0M108.1 134.2m-9.7 0a9.7 9.7 0 1 0 19.3 0a9.7 9.7 0 1 0 -19.3 0M125.9 131.1m-9.4 0a9.4 9.4 0 1 0 18.8 0a9.4 9.4 0 1 0 -18.8 0M142.9 128.2m-9.1 0a9.1 9.1 0 1 0 18.2 0a9.1 9.1 0 1 0 -18.2 0M159.1 125.3m-8.8 0a8.8 8.8 0 1 0 17.7 0a8.8 8.8 0 1 0 -17.7 0M28 156.7m-8.9 0a8.9 8.9 0 1 0 17.7 0a8.9 8.9 0 1 0 -17.7 0M49.8 152.6m-8.6 0a8.6 8.6 0 1 0 17.1 0a8.6 8.6 0 1 0 -17.1 0M70.4 148.7m-8.3 0a8.3 8.3 0 1 0 16.6 0a8.3 8.3 0 1 0 -16.6 0M89.9 145m-8 0a8 8 0 1 0 16 0a8 8 0 1 0 -16 0M108.3 141.5m-7.8 0a7.8 7.8 0 1 0 15.5 0a7.8 7.8 0 1 0 -15.5 0M125.7 138.2m-7.5 0a7.5 7.5 0 1 0 15.1 0a7.5 7.5 0 1 0 -15.1 0M142.2 135.1m-7.3 0a7.3 7.3 0 1 0 14.6 0a7.3 7.3 0 1 0 -14.6 0M157.9 132.1m-7.1 0a7.1 7.1 0 1 0 14.2 0a7.1 7.1 0 1 0 -14.2 0" fill="#387480"/>
<path d="M18.6 107.3 L26 148.5 L48.3 144.7 L69.3 141 L89.2 137.5 L108.1 134.2 L125.9 131.1 L142.9 128.2 L159.1 125.3 L163.9 113.1" fill="none" stroke="#387480" stroke-width="13" stroke-linejoin="round" stroke-linecap="round"/>
<circle cx="49.4" cy="56.7" r="2.6" fill="url(#gNi)"/>
<circle cx="57.6" cy="56.2" r="2.5" fill="url(#gS)"/>
<circle cx="65.7" cy="55.7" r="2.5" fill="url(#gNi)"/>
<circle cx="73.5" cy="55.2" r="2.4" fill="url(#gNi4)"/>
<circle cx="40.5" cy="59.2" r="2.8" fill="url(#gNi1)"/>
<circle cx="49.3" cy="58.7" r="2.7" fill="url(#gNi)"/>
<circle cx="57.9" cy="58.2" r="2.7" fill="url(#gS)"/>
<circle cx="66.3" cy="57.6" r="2.6" fill="url(#gNi)"/>
<circle cx="74.5" cy="57.1" r="2.6" fill="url(#gNi)"/>
<circle cx="82.5" cy="56.6" r="2.6" fill="url(#gNi4)"/>
<circle cx="90.4" cy="56.1" r="2.5" fill="url(#gS)"/>
<circle cx="98.1" cy="55.7" r="2.5" fill="url(#gNi4)"/>
<circle cx="105.6" cy="55.2" r="2.4" fill="url(#gNi5)"/>
<circle cx="30.7" cy="62.1" r="3" fill="url(#gNi2)"/>
<circle cx="40.1" cy="61.5" r="2.9" fill="url(#gNi1)"/>
<circle cx="49.2" cy="60.9" r="2.9" fill="url(#gNi)"/>
<circle cx="58.2" cy="60.3" r="2.8" fill="url(#gS)"/>
<circle cx="67" cy="59.7" r="2.8" fill="url(#gNi)"/>
<circle cx="75.5" cy="59.2" r="2.8" fill="url(#gNi)"/>
<circle cx="83.9" cy="58.7" r="2.7" fill="url(#gNi4)"/>
<circle cx="92.1" cy="58.1" r="2.7" fill="url(#gS)"/>
<circle cx="100.1" cy="57.6" r="2.6" fill="url(#gNi4)"/>
<circle cx="107.9" cy="57.1" r="2.6" fill="url(#gNi5)"/>
<circle cx="115.6" cy="56.6" r="2.5" fill="url(#gNi5)"/>
<circle cx="123.1" cy="56.1" r="2.5" fill="url(#gNi5)"/>
<circle cx="29.7" cy="64.6" r="3.2" fill="url(#gNi2)"/>
<circle cx="39.5" cy="64" r="3.1" fill="url(#gNi1)"/>
<circle cx="49.2" cy="63.3" r="3.1" fill="url(#gNi1)"/>
<circle cx="58.5" cy="62.7" r="3" fill="url(#gS)"/>
<circle cx="67.7" cy="62.1" r="3" fill="url(#gNi)"/>
<circle cx="76.6" cy="61.4" r="2.9" fill="url(#gNi)"/>
<circle cx="85.4" cy="60.9" r="2.9" fill="url(#gNi4)"/>
<circle cx="93.9" cy="60.3" r="2.8" fill="url(#gS)"/>
<circle cx="102.3" cy="59.7" r="2.8" fill="url(#gNi4)"/>
<circle cx="110.4" cy="59.2" r="2.7" fill="url(#gNi5)"/>
<circle cx="118.4" cy="58.6" r="2.7" fill="url(#gNi5)"/>
<circle cx="126.2" cy="58.1" r="2.7" fill="url(#gNi5)"/>
<circle cx="133.9" cy="57.6" r="2.6" fill="url(#gNi5)"/>
<circle cx="28.6" cy="67.4" r="3.4" fill="url(#gNi2)"/>
<circle cx="39" cy="66.7" r="3.4" fill="url(#gNi1)"/>
<circle cx="49.1" cy="66" r="3.3" fill="url(#gNi1)"/>
<circle cx="58.9" cy="65.3" r="3.2" fill="url(#gS)"/>
<circle cx="68.5" cy="64.6" r="3.2" fill="url(#gNi)"/>
<circle cx="77.9" cy="63.9" r="3.1" fill="url(#gNi)"/>
<circle cx="87" cy="63.3" r="3.1" fill="url(#gNi4)"/>
<circle cx="95.9" cy="62.6" r="3" fill="url(#gS)"/>
<circle cx="104.6" cy="62" r="3" fill="url(#gNi4)"/>
<circle cx="113.1" cy="61.4" r="2.9" fill="url(#gNi5)"/>
<circle cx="121.5" cy="60.8" r="2.9" fill="url(#gNi5)"/>
<circle cx="129.6" cy="60.2" r="2.8" fill="url(#gNi5)"/>
<circle cx="137.5" cy="59.7" r="2.8" fill="url(#gNi5)"/>
<circle cx="145.3" cy="59.1" r="2.7" fill="url(#gNi5)"/>
<circle cx="27.4" cy="70.5" r="3.7" fill="url(#gNi2)"/>
<circle cx="38.3" cy="69.7" r="3.6" fill="url(#gNi1)"/>
<circle cx="49" cy="68.9" r="3.6" fill="url(#gNi1)"/>
<circle cx="59.3" cy="68.1" r="3.5" fill="url(#gS)"/>
<circle cx="69.4" cy="67.4" r="3.4" fill="url(#gNi)"/>
<circle cx="79.2" cy="66.6" r="3.4" fill="url(#gNi)"/>
<circle cx="88.8" cy="65.9" r="3.3" fill="url(#gNi4)"/>
<circle cx="98.1" cy="65.2" r="3.2" fill="url(#gS)"/>
<circle cx="107.2" cy="64.5" r="3.2" fill="url(#gNi4)"/>
<circle cx="116.1" cy="63.9" r="3.1" fill="url(#gNi4)"/>
<circle cx="124.8" cy="63.2" r="3.1" fill="url(#gNi5)"/>
<circle cx="133.3" cy="62.6" r="3" fill="url(#gNi5)"/>
<circle cx="141.5" cy="62" r="3" fill="url(#gNi5)"/>
<circle cx="149.6" cy="61.4" r="2.9" fill="url(#gNi5)"/>
<circle cx="26.1" cy="73.9" r="4" fill="url(#gNi2)"/>
<circle cx="37.6" cy="73" r="3.9" fill="url(#gNi2)"/>
<circle cx="48.8" cy="72.1" r="3.8" fill="url(#gNi1)"/>
<circle cx="59.8" cy="71.3" r="3.8" fill="url(#gS)"/>
<circle cx="70.4" cy="70.4" r="3.7" fill="url(#gNi)"/>
<circle cx="80.7" cy="69.6" r="3.6" fill="url(#gNi)"/>
<circle cx="90.8" cy="68.8" r="3.5" fill="url(#gNi)"/>
<circle cx="100.6" cy="68.1" r="3.5" fill="url(#gS)"/>
<circle cx="110.1" cy="67.3" r="3.4" fill="url(#gNi4)"/>
<circle cx="119.4" cy="66.6" r="3.4" fill="url(#gNi4)"/>
<circle cx="128.5" cy="65.9" r="3.3" fill="url(#gNi5)"/>
<circle cx="137.3" cy="65.2" r="3.2" fill="url(#gNi5)"/>
<circle cx="145.9" cy="64.5" r="3.2" fill="url(#gNi5)"/>
<circle cx="154.3" cy="63.8" r="3.1" fill="url(#gNi5)"/>
<circle cx="24.6" cy="77.8" r="4.3" fill="url(#gNi3)"/>
<circle cx="36.8" cy="76.8" r="4.2" fill="url(#gNi2)"/>
<circle cx="48.7" cy="75.8" r="4.2" fill="url(#gNi1)"/>
<circle cx="60.3" cy="74.8" r="4.1" fill="url(#gS)"/>
<circle cx="71.5" cy="73.9" r="4" fill="url(#gNi)"/>
<circle cx="82.4" cy="73" r="3.9" fill="url(#gNi)"/>
<circle cx="93" cy="72.1" r="3.8" fill="url(#gNi)"/>
<circle cx="103.3" cy="71.2" r="3.8" fill="url(#gS)"/>
<circle cx="113.3" cy="70.4" r="3.7" fill="url(#gNi4)"/>
<circle cx="123" cy="69.6" r="3.6" fill="url(#gNi4)"/>
<circle cx="132.5" cy="68.8" r="3.5" fill="url(#gNi5)"/>
<circle cx="141.7" cy="68" r="3.5" fill="url(#gNi5)"/>
<circle cx="150.7" cy="67.3" r="3.4" fill="url(#gNi5)"/>
<circle cx="159.5" cy="66.5" r="3.4" fill="url(#gNi5)"/>
<circle cx="22.9" cy="82.1" r="4.7" fill="url(#gNi3)"/>
<circle cx="35.9" cy="81" r="4.6" fill="url(#gNi2)"/>
<circle cx="48.6" cy="79.9" r="4.5" fill="url(#gNi1)"/>
<circle cx="60.8" cy="78.8" r="4.4" fill="url(#gS)"/>
<circle cx="72.7" cy="77.7" r="4.3" fill="url(#gNi)"/>
<circle cx="84.2" cy="76.7" r="4.2" fill="url(#gNi)"/>
<circle cx="95.4" cy="75.7" r="4.2" fill="url(#gNi)"/>
<circle cx="106.3" cy="74.8" r="4.1" fill="url(#gS)"/>
<circle cx="116.8" cy="73.8" r="4" fill="url(#gNi4)"/>
<circle cx="127.1" cy="72.9" r="3.9" fill="url(#gNi4)"/>
<circle cx="137" cy="72" r="3.8" fill="url(#gNi5)"/>
<circle cx="146.7" cy="71.2" r="3.8" fill="url(#gNi5)"/>
<circle cx="156.1" cy="70.3" r="3.7" fill="url(#gNi5)"/>
<circle cx="20.9" cy="87.1" r="5.2" fill="url(#gNi3)"/>
<circle cx="34.9" cy="85.8" r="5.1" fill="url(#gNi2)"/>
<circle cx="48.4" cy="84.5" r="5" fill="url(#gNi1)"/>
<circle cx="61.5" cy="83.3" r="4.8" fill="url(#gS)"/>
<circle cx="74.1" cy="82.1" r="4.7" fill="url(#gNi)"/>
<circle cx="86.3" cy="80.9" r="4.6" fill="url(#gNi)"/>
<circle cx="98.2" cy="79.8" r="4.5" fill="url(#gNi)"/>
<circle cx="109.7" cy="78.7" r="4.4" fill="url(#gS)"/>
<circle cx="120.8" cy="77.7" r="4.3" fill="url(#gNi4)"/>
<circle cx="131.6" cy="76.6" r="4.2" fill="url(#gNi4)"/>
<circle cx="142" cy="75.7" r="4.1" fill="url(#gNi5)"/>
<circle cx="152.2" cy="74.7" r="4.1" fill="url(#gNi5)"/>
<circle cx="162.1" cy="73.8" r="4" fill="url(#gNi5)"/>
<circle cx="18.7" cy="92.8" r="5.8" fill="url(#gNi3)"/>
<circle cx="33.7" cy="91.2" r="5.6" fill="url(#gNi2)"/>
<circle cx="48.2" cy="89.8" r="5.5" fill="url(#gNi1)"/>
<circle cx="62.2" cy="88.4" r="5.3" fill="url(#gS)"/>
<circle cx="75.7" cy="87" r="5.2" fill="url(#gNi)"/>
<circle cx="88.7" cy="85.7" r="5.1" fill="url(#gNi)"/>
<circle cx="101.3" cy="84.4" r="5" fill="url(#gNi)"/>
<circle cx="113.5" cy="83.2" r="4.8" fill="url(#gS)"/>
<circle cx="125.2" cy="82" r="4.7" fill="url(#gNi4)"/>
<circle cx="136.6" cy="80.8" r="4.6" fill="url(#gNi4)"/>
<circle cx="147.7" cy="79.7" r="4.5" fill="url(#gNi5)"/>
<circle cx="158.4" cy="78.6" r="4.4" fill="url(#gNi5)"/>
<circle cx="16.2" cy="99.3" r="6.4" fill="url(#gNi3)"/>
<circle cx="32.4" cy="97.6" r="6.2" fill="url(#gNi2)"/>
<circle cx="48" cy="95.9" r="6.1" fill="url(#gNi1)"/>
<circle cx="63" cy="94.2" r="5.9" fill="url(#gS)"/>
<circle cx="77.5" cy="92.7" r="5.8" fill="url(#gNi)"/>
<circle cx="91.4" cy="91.2" r="5.6" fill="url(#gNi)"/>
<circle cx="104.9" cy="89.7" r="5.5" fill="url(#gNi)"/>
<circle cx="117.8" cy="88.3" r="5.3" fill="url(#gS)"/>
<circle cx="130.3" cy="86.9" r="5.2" fill="url(#gNi4)"/>
<circle cx="142.4" cy="85.6" r="5.1" fill="url(#gNi4)"/>
<circle cx="154.1" cy="84.3" r="4.9" fill="url(#gNi5)"/>
<circle cx="165.4" cy="83.1" r="4.8" fill="url(#gNi5)"/>
<circle cx="21.1" cy="113" r="6.4" fill="url(#gNi3)"/>
<circle cx="30.8" cy="105" r="7" fill="url(#gNi2)"/>
<circle cx="47.8" cy="103" r="6.8" fill="url(#gNi1)"/>
<circle cx="64" cy="101.1" r="6.6" fill="url(#gS)"/>
<circle cx="79.6" cy="99.2" r="6.4" fill="url(#gNi)"/>
<circle cx="94.6" cy="97.5" r="6.2" fill="url(#gNi)"/>
<circle cx="109" cy="95.8" r="6.1" fill="url(#gNi)"/>
<circle cx="122.8" cy="94.1" r="5.9" fill="url(#gS)"/>
<circle cx="136.1" cy="92.6" r="5.7" fill="url(#gNi4)"/>
<circle cx="149" cy="91.1" r="5.6" fill="url(#gNi4)"/>
<circle cx="161.4" cy="89.6" r="5.5" fill="url(#gNi5)"/>
<circle cx="29" cy="113.7" r="7.9" fill="url(#gNi3)"/>
<circle cx="47.5" cy="111.4" r="7.7" fill="url(#gNi1)"/>
<circle cx="65.2" cy="109.1" r="7.4" fill="url(#gS)"/>
<circle cx="82.1" cy="106.9" r="7.2" fill="url(#gNi)"/>
<circle cx="98.3" cy="104.8" r="7" fill="url(#gNi)"/>
<circle cx="113.8" cy="102.9" r="6.8" fill="url(#gNi)"/>
<circle cx="128.6" cy="100.9" r="6.6" fill="url(#gS)"/>
<circle cx="142.9" cy="99.1" r="6.4" fill="url(#gNi4)"/>
<circle cx="156.6" cy="97.4" r="6.2" fill="url(#gNi4)"/>
<circle cx="169.8" cy="95.7" r="6.1" fill="url(#gNi5)"/>
<circle cx="26.7" cy="124.3" r="9.1" fill="url(#gNi3)"/>
<circle cx="47.1" cy="121.4" r="8.8" fill="url(#gNi1)"/>
<circle cx="66.5" cy="118.7" r="8.5" fill="url(#gS)"/>
<circle cx="85" cy="116.1" r="8.2" fill="url(#gNi)"/>
<circle cx="102.6" cy="113.6" r="7.9" fill="url(#gNi)"/>
<circle cx="119.4" cy="111.2" r="7.7" fill="url(#gNi)"/>
<circle cx="135.5" cy="109" r="7.4" fill="url(#gS)"/>
<circle cx="150.8" cy="106.8" r="7.2" fill="url(#gNi)"/>
<circle cx="165.5" cy="104.7" r="7" fill="url(#gNi4)"/>
<circle cx="162.3" cy="119.2" r="6.9" fill="url(#gNi)"/>
<circle cx="24" cy="137.2" r="10.6" fill="url(#gNi3)"/>
<circle cx="46.7" cy="133.7" r="10.2" fill="url(#gNi1)"/>
<circle cx="68.2" cy="130.3" r="9.8" fill="url(#gS)"/>
<circle cx="88.6" cy="127.1" r="9.4" fill="url(#gNi)"/>
<circle cx="107.9" cy="124.1" r="9.1" fill="url(#gNi)"/>
<circle cx="126.2" cy="121.2" r="8.8" fill="url(#gNi)"/>
<circle cx="143.6" cy="118.5" r="8.5" fill="url(#gS)"/>
<circle cx="160.2" cy="115.9" r="8.2" fill="url(#gNi)"/>
<circle cx="28" cy="156.7" r="9.8" fill="url(#gNi3)"/>
<circle cx="49.8" cy="152.6" r="9.5" fill="url(#gNi1)"/>
<circle cx="70.4" cy="148.7" r="9.2" fill="url(#gNi)"/>
<circle cx="89.9" cy="145" r="8.9" fill="url(#gS)"/>
<circle cx="108.3" cy="141.5" r="8.6" fill="url(#gNi)"/>
<circle cx="125.7" cy="138.2" r="8.4" fill="url(#gS)"/>
<circle cx="142.2" cy="135.1" r="8.1" fill="url(#gNi)"/>
<circle cx="157.9" cy="132.1" r="7.9" fill="url(#gNi)"/>
</g></g>
<g id="slabCr"><g>
<path d="M49.4 56.7m-4.5 0a4.5 4.5 0 1 0 8.9 0a4.5 4.5 0 1 0 -8.9 0M57.6 56.2m-4.4 0a4.4 4.4 0 1 0 8.8 0a4.4 4.4 0 1 0 -8.8 0M65.7 55.7m-4.4 0a4.4 4.4 0 1 0 8.7 0a4.4 4.4 0 1 0 -8.7 0M73.5 55.2m-4.3 0a4.3 4.3 0 1 0 8.6 0a4.3 4.3 0 1 0 -8.6 0M40.5 59.2m-4.7 0a4.7 4.7 0 1 0 9.4 0a4.7 4.7 0 1 0 -9.4 0M49.3 58.7m-4.7 0a4.7 4.7 0 1 0 9.3 0a4.7 4.7 0 1 0 -9.3 0M57.9 58.2m-4.6 0a4.6 4.6 0 1 0 9.2 0a4.6 4.6 0 1 0 -9.2 0M66.3 57.6m-4.6 0a4.6 4.6 0 1 0 9.1 0a4.6 4.6 0 1 0 -9.1 0M74.5 57.1m-4.5 0a4.5 4.5 0 1 0 9 0a4.5 4.5 0 1 0 -9 0M82.5 56.6m-4.5 0a4.5 4.5 0 1 0 8.9 0a4.5 4.5 0 1 0 -8.9 0M90.4 56.1m-4.4 0a4.4 4.4 0 1 0 8.8 0a4.4 4.4 0 1 0 -8.8 0M98.1 55.7m-4.4 0a4.4 4.4 0 1 0 8.7 0a4.4 4.4 0 1 0 -8.7 0M105.6 55.2m-4.3 0a4.3 4.3 0 1 0 8.6 0a4.3 4.3 0 1 0 -8.6 0M30.7 62.1m-5 0a5 5 0 1 0 10 0a5 5 0 1 0 -10 0M40.1 61.5m-4.9 0a4.9 4.9 0 1 0 9.8 0a4.9 4.9 0 1 0 -9.8 0M49.2 60.9m-4.9 0a4.9 4.9 0 1 0 9.7 0a4.9 4.9 0 1 0 -9.7 0M58.2 60.3m-4.8 0a4.8 4.8 0 1 0 9.6 0a4.8 4.8 0 1 0 -9.6 0M67 59.7m-4.8 0a4.8 4.8 0 1 0 9.5 0a4.8 4.8 0 1 0 -9.5 0M75.5 59.2m-4.7 0a4.7 4.7 0 1 0 9.4 0a4.7 4.7 0 1 0 -9.4 0M83.9 58.7m-4.7 0a4.7 4.7 0 1 0 9.3 0a4.7 4.7 0 1 0 -9.3 0M92.1 58.1m-4.6 0a4.6 4.6 0 1 0 9.2 0a4.6 4.6 0 1 0 -9.2 0M100.1 57.6m-4.6 0a4.6 4.6 0 1 0 9.1 0a4.6 4.6 0 1 0 -9.1 0M107.9 57.1m-4.5 0a4.5 4.5 0 1 0 9 0a4.5 4.5 0 1 0 -9 0M115.6 56.6m-4.5 0a4.5 4.5 0 1 0 8.9 0a4.5 4.5 0 1 0 -8.9 0M123.1 56.1m-4.4 0a4.4 4.4 0 1 0 8.8 0a4.4 4.4 0 1 0 -8.8 0M29.7 64.6m-5.2 0a5.2 5.2 0 1 0 10.4 0a5.2 5.2 0 1 0 -10.4 0M39.5 64m-5.2 0a5.2 5.2 0 1 0 10.3 0a5.2 5.2 0 1 0 -10.3 0M49.2 63.3m-5.1 0a5.1 5.1 0 1 0 10.2 0a5.1 5.1 0 1 0 -10.2 0M58.5 62.7m-5 0a5 5 0 1 0 10.1 0a5 5 0 1 0 -10.1 0M67.7 62.1m-5 0a5 5 0 1 0 10 0a5 5 0 1 0 -10 0M76.6 61.4m-4.9 0a4.9 4.9 0 1 0 9.8 0a4.9 4.9 0 1 0 -9.8 0M85.4 60.9m-4.9 0a4.9 4.9 0 1 0 9.7 0a4.9 4.9 0 1 0 -9.7 0M93.9 60.3m-4.8 0a4.8 4.8 0 1 0 9.6 0a4.8 4.8 0 1 0 -9.6 0M102.3 59.7m-4.8 0a4.8 4.8 0 1 0 9.5 0a4.8 4.8 0 1 0 -9.5 0M110.4 59.2m-4.7 0a4.7 4.7 0 1 0 9.4 0a4.7 4.7 0 1 0 -9.4 0M118.4 58.6m-4.6 0a4.6 4.6 0 1 0 9.3 0a4.6 4.6 0 1 0 -9.3 0M126.2 58.1m-4.6 0a4.6 4.6 0 1 0 9.2 0a4.6 4.6 0 1 0 -9.2 0M133.9 57.6m-4.5 0a4.5 4.5 0 1 0 9.1 0a4.5 4.5 0 1 0 -9.1 0M28.6 67.4m-5.5 0a5.5 5.5 0 1 0 11 0a5.5 5.5 0 1 0 -11 0M39 66.7m-5.4 0a5.4 5.4 0 1 0 10.8 0a5.4 5.4 0 1 0 -10.8 0M49.1 66m-5.3 0a5.3 5.3 0 1 0 10.7 0a5.3 5.3 0 1 0 -10.7 0M58.9 65.3m-5.3 0a5.3 5.3 0 1 0 10.6 0a5.3 5.3 0 1 0 -10.6 0M68.5 64.6m-5.2 0a5.2 5.2 0 1 0 10.4 0a5.2 5.2 0 1 0 -10.4 0M77.9 63.9m-5.2 0a5.2 5.2 0 1 0 10.3 0a5.2 5.2 0 1 0 -10.3 0M87 63.3m-5.1 0a5.1 5.1 0 1 0 10.2 0a5.1 5.1 0 1 0 -10.2 0M95.9 62.6m-5 0a5 5 0 1 0 10.1 0a5 5 0 1 0 -10.1 0M104.6 62m-5 0a5 5 0 1 0 9.9 0a5 5 0 1 0 -9.9 0M113.1 61.4m-4.9 0a4.9 4.9 0 1 0 9.8 0a4.9 4.9 0 1 0 -9.8 0M121.5 60.8m-4.9 0a4.9 4.9 0 1 0 9.7 0a4.9 4.9 0 1 0 -9.7 0M129.6 60.2m-4.8 0a4.8 4.8 0 1 0 9.6 0a4.8 4.8 0 1 0 -9.6 0M137.5 59.7m-4.7 0a4.7 4.7 0 1 0 9.5 0a4.7 4.7 0 1 0 -9.5 0M145.3 59.1m-4.7 0a4.7 4.7 0 1 0 9.4 0a4.7 4.7 0 1 0 -9.4 0M27.4 70.5m-5.8 0a5.8 5.8 0 1 0 11.6 0a5.8 5.8 0 1 0 -11.6 0M38.3 69.7m-5.7 0a5.7 5.7 0 1 0 11.4 0a5.7 5.7 0 1 0 -11.4 0M49 68.9m-5.6 0a5.6 5.6 0 1 0 11.3 0a5.6 5.6 0 1 0 -11.3 0M59.3 68.1m-5.6 0a5.6 5.6 0 1 0 11.1 0a5.6 5.6 0 1 0 -11.1 0M69.4 67.4m-5.5 0a5.5 5.5 0 1 0 11 0a5.5 5.5 0 1 0 -11 0M79.2 66.6m-5.4 0a5.4 5.4 0 1 0 10.8 0a5.4 5.4 0 1 0 -10.8 0M88.8 65.9m-5.3 0a5.3 5.3 0 1 0 10.7 0a5.3 5.3 0 1 0 -10.7 0M98.1 65.2m-5.3 0a5.3 5.3 0 1 0 10.6 0a5.3 5.3 0 1 0 -10.6 0M107.2 64.5m-5.2 0a5.2 5.2 0 1 0 10.4 0a5.2 5.2 0 1 0 -10.4 0M116.1 63.9m-5.1 0a5.1 5.1 0 1 0 10.3 0a5.1 5.1 0 1 0 -10.3 0M124.8 63.2m-5.1 0a5.1 5.1 0 1 0 10.2 0a5.1 5.1 0 1 0 -10.2 0M133.3 62.6m-5 0a5 5 0 1 0 10.1 0a5 5 0 1 0 -10.1 0M141.5 62m-5 0a5 5 0 1 0 9.9 0a5 5 0 1 0 -9.9 0M149.6 61.4m-4.9 0a4.9 4.9 0 1 0 9.8 0a4.9 4.9 0 1 0 -9.8 0M26.1 73.9m-6.1 0a6.1 6.1 0 1 0 12.2 0a6.1 6.1 0 1 0 -12.2 0M37.6 73m-6 0a6 6 0 1 0 12.1 0a6 6 0 1 0 -12.1 0M48.8 72.1m-5.9 0a5.9 5.9 0 1 0 11.9 0a5.9 5.9 0 1 0 -11.9 0M59.8 71.3m-5.9 0a5.9 5.9 0 1 0 11.7 0a5.9 5.9 0 1 0 -11.7 0M70.4 70.4m-5.8 0a5.8 5.8 0 1 0 11.6 0a5.8 5.8 0 1 0 -11.6 0M80.7 69.6m-5.7 0a5.7 5.7 0 1 0 11.4 0a5.7 5.7 0 1 0 -11.4 0M90.8 68.8m-5.6 0a5.6 5.6 0 1 0 11.2 0a5.6 5.6 0 1 0 -11.2 0M100.6 68.1m-5.6 0a5.6 5.6 0 1 0 11.1 0a5.6 5.6 0 1 0 -11.1 0M110.1 67.3m-5.5 0a5.5 5.5 0 1 0 11 0a5.5 5.5 0 1 0 -11 0M119.4 66.6m-5.4 0a5.4 5.4 0 1 0 10.8 0a5.4 5.4 0 1 0 -10.8 0M128.5 65.9m-5.3 0a5.3 5.3 0 1 0 10.7 0a5.3 5.3 0 1 0 -10.7 0M137.3 65.2m-5.3 0a5.3 5.3 0 1 0 10.5 0a5.3 5.3 0 1 0 -10.5 0M145.9 64.5m-5.2 0a5.2 5.2 0 1 0 10.4 0a5.2 5.2 0 1 0 -10.4 0M154.3 63.8m-5.1 0a5.1 5.1 0 1 0 10.3 0a5.1 5.1 0 1 0 -10.3 0M24.6 77.8m-6.5 0a6.5 6.5 0 1 0 13 0a6.5 6.5 0 1 0 -13 0M36.8 76.8m-6.4 0a6.4 6.4 0 1 0 12.8 0a6.4 6.4 0 1 0 -12.8 0M48.7 75.8m-6.3 0a6.3 6.3 0 1 0 12.6 0a6.3 6.3 0 1 0 -12.6 0M60.3 74.8m-6.2 0a6.2 6.2 0 1 0 12.4 0a6.2 6.2 0 1 0 -12.4 0M71.5 73.9m-6.1 0a6.1 6.1 0 1 0 12.2 0a6.1 6.1 0 1 0 -12.2 0M82.4 73m-6 0a6 6 0 1 0 12 0a6 6 0 1 0 -12 0M93 72.1m-5.9 0a5.9 5.9 0 1 0 11.9 0a5.9 5.9 0 1 0 -11.9 0M103.3 71.2m-5.9 0a5.9 5.9 0 1 0 11.7 0a5.9 5.9 0 1 0 -11.7 0M113.3 70.4m-5.8 0a5.8 5.8 0 1 0 11.5 0a5.8 5.8 0 1 0 -11.5 0M123 69.6m-5.7 0a5.7 5.7 0 1 0 11.4 0a5.7 5.7 0 1 0 -11.4 0M132.5 68.8m-5.6 0a5.6 5.6 0 1 0 11.2 0a5.6 5.6 0 1 0 -11.2 0M141.7 68m-5.5 0a5.5 5.5 0 1 0 11.1 0a5.5 5.5 0 1 0 -11.1 0M150.7 67.3m-5.5 0a5.5 5.5 0 1 0 10.9 0a5.5 5.5 0 1 0 -10.9 0M159.5 66.5m-5.4 0a5.4 5.4 0 1 0 10.8 0a5.4 5.4 0 1 0 -10.8 0M22.9 82.1m-6.9 0a6.9 6.9 0 1 0 13.8 0a6.9 6.9 0 1 0 -13.8 0M35.9 81m-6.8 0a6.8 6.8 0 1 0 13.6 0a6.8 6.8 0 1 0 -13.6 0M48.6 79.9m-6.7 0a6.7 6.7 0 1 0 13.4 0a6.7 6.7 0 1 0 -13.4 0M60.8 78.8m-6.6 0a6.6 6.6 0 1 0 13.2 0a6.6 6.6 0 1 0 -13.2 0M72.7 77.7m-6.5 0a6.5 6.5 0 1 0 12.9 0a6.5 6.5 0 1 0 -12.9 0M84.2 76.7m-6.4 0a6.4 6.4 0 1 0 12.8 0a6.4 6.4 0 1 0 -12.8 0M95.4 75.7m-6.3 0a6.3 6.3 0 1 0 12.6 0a6.3 6.3 0 1 0 -12.6 0M106.3 74.8m-6.2 0a6.2 6.2 0 1 0 12.4 0a6.2 6.2 0 1 0 -12.4 0M116.8 73.8m-6.1 0a6.1 6.1 0 1 0 12.2 0a6.1 6.1 0 1 0 -12.2 0M127.1 72.9m-6 0a6 6 0 1 0 12 0a6 6 0 1 0 -12 0M137 72m-5.9 0a5.9 5.9 0 1 0 11.9 0a5.9 5.9 0 1 0 -11.9 0M146.7 71.2m-5.8 0a5.8 5.8 0 1 0 11.7 0a5.8 5.8 0 1 0 -11.7 0M156.1 70.3m-5.8 0a5.8 5.8 0 1 0 11.5 0a5.8 5.8 0 1 0 -11.5 0M20.9 87.1m-7.4 0a7.4 7.4 0 1 0 14.7 0a7.4 7.4 0 1 0 -14.7 0M34.9 85.8m-7.2 0a7.2 7.2 0 1 0 14.5 0a7.2 7.2 0 1 0 -14.5 0M48.4 84.5m-7.1 0a7.1 7.1 0 1 0 14.2 0a7.1 7.1 0 1 0 -14.2 0M61.5 83.3m-7 0a7 7 0 1 0 14 0a7 7 0 1 0 -14 0M74.1 82.1m-6.9 0a6.9 6.9 0 1 0 13.8 0a6.9 6.9 0 1 0 -13.8 0M86.3 80.9m-6.8 0a6.8 6.8 0 1 0 13.6 0a6.8 6.8 0 1 0 -13.6 0M98.2 79.8m-6.7 0a6.7 6.7 0 1 0 13.3 0a6.7 6.7 0 1 0 -13.3 0M109.7 78.7m-6.6 0a6.6 6.6 0 1 0 13.1 0a6.6 6.6 0 1 0 -13.1 0M120.8 77.7m-6.5 0a6.5 6.5 0 1 0 12.9 0a6.5 6.5 0 1 0 -12.9 0M131.6 76.6m-6.4 0a6.4 6.4 0 1 0 12.7 0a6.4 6.4 0 1 0 -12.7 0M142 75.7m-6.3 0a6.3 6.3 0 1 0 12.6 0a6.3 6.3 0 1 0 -12.6 0M152.2 74.7m-6.2 0a6.2 6.2 0 1 0 12.4 0a6.2 6.2 0 1 0 -12.4 0M162.1 73.8m-6.1 0a6.1 6.1 0 1 0 12.2 0a6.1 6.1 0 1 0 -12.2 0M18.7 92.8m-7.9 0a7.9 7.9 0 1 0 15.8 0a7.9 7.9 0 1 0 -15.8 0M33.7 91.2m-7.8 0a7.8 7.8 0 1 0 15.5 0a7.8 7.8 0 1 0 -15.5 0M48.2 89.8m-7.6 0a7.6 7.6 0 1 0 15.3 0a7.6 7.6 0 1 0 -15.3 0M62.2 88.4m-7.5 0a7.5 7.5 0 1 0 15 0a7.5 7.5 0 1 0 -15 0M75.7 87m-7.4 0a7.4 7.4 0 1 0 14.7 0a7.4 7.4 0 1 0 -14.7 0M88.7 85.7m-7.2 0a7.2 7.2 0 1 0 14.5 0a7.2 7.2 0 1 0 -14.5 0M101.3 84.4m-7.1 0a7.1 7.1 0 1 0 14.2 0a7.1 7.1 0 1 0 -14.2 0M113.5 83.2m-7 0a7 7 0 1 0 14 0a7 7 0 1 0 -14 0M125.2 82m-6.9 0a6.9 6.9 0 1 0 13.8 0a6.9 6.9 0 1 0 -13.8 0M136.6 80.8m-6.8 0a6.8 6.8 0 1 0 13.5 0a6.8 6.8 0 1 0 -13.5 0M147.7 79.7m-6.7 0a6.7 6.7 0 1 0 13.3 0a6.7 6.7 0 1 0 -13.3 0M158.4 78.6m-6.6 0a6.6 6.6 0 1 0 13.1 0a6.6 6.6 0 1 0 -13.1 0M16.2 99.3m-8.5 0a8.5 8.5 0 1 0 17.1 0a8.5 8.5 0 1 0 -17.1 0M32.4 97.6m-8.4 0a8.4 8.4 0 1 0 16.7 0a8.4 8.4 0 1 0 -16.7 0M48 95.9m-8.2 0a8.2 8.2 0 1 0 16.4 0a8.2 8.2 0 1 0 -16.4 0M63 94.2m-8.1 0a8.1 8.1 0 1 0 16.1 0a8.1 8.1 0 1 0 -16.1 0M77.5 92.7m-7.9 0a7.9 7.9 0 1 0 15.8 0a7.9 7.9 0 1 0 -15.8 0M91.4 91.2m-7.8 0a7.8 7.8 0 1 0 15.5 0a7.8 7.8 0 1 0 -15.5 0M104.9 89.7m-7.6 0a7.6 7.6 0 1 0 15.2 0a7.6 7.6 0 1 0 -15.2 0M117.8 88.3m-7.5 0a7.5 7.5 0 1 0 15 0a7.5 7.5 0 1 0 -15 0M130.3 86.9m-7.4 0a7.4 7.4 0 1 0 14.7 0a7.4 7.4 0 1 0 -14.7 0M142.4 85.6m-7.2 0a7.2 7.2 0 1 0 14.5 0a7.2 7.2 0 1 0 -14.5 0M154.1 84.3m-7.1 0a7.1 7.1 0 1 0 14.2 0a7.1 7.1 0 1 0 -14.2 0M165.4 83.1m-7 0a7 7 0 1 0 14 0a7 7 0 1 0 -14 0M18.6 107.3m-7.2 0a7.2 7.2 0 1 0 14.4 0a7.2 7.2 0 1 0 -14.4 0M21.1 113m-5.8 0a5.8 5.8 0 1 0 11.6 0a5.8 5.8 0 1 0 -11.6 0M30.8 105m-9.1 0a9.1 9.1 0 1 0 18.2 0a9.1 9.1 0 1 0 -18.2 0M47.8 103m-8.9 0a8.9 8.9 0 1 0 17.8 0a8.9 8.9 0 1 0 -17.8 0M64 101.1m-8.7 0a8.7 8.7 0 1 0 17.4 0a8.7 8.7 0 1 0 -17.4 0M79.6 99.2m-8.5 0a8.5 8.5 0 1 0 17.1 0a8.5 8.5 0 1 0 -17.1 0M94.6 97.5m-8.4 0a8.4 8.4 0 1 0 16.7 0a8.4 8.4 0 1 0 -16.7 0M109 95.8m-8.2 0a8.2 8.2 0 1 0 16.4 0a8.2 8.2 0 1 0 -16.4 0M122.8 94.1m-8 0a8 8 0 1 0 16.1 0a8 8 0 1 0 -16.1 0M136.1 92.6m-7.9 0a7.9 7.9 0 1 0 15.8 0a7.9 7.9 0 1 0 -15.8 0M149 91.1m-7.7 0a7.7 7.7 0 1 0 15.5 0a7.7 7.7 0 1 0 -15.5 0M161.4 89.6m-7.6 0a7.6 7.6 0 1 0 15.2 0a7.6 7.6 0 1 0 -15.2 0M29 113.7m-9.9 0a9.9 9.9 0 1 0 19.8 0a9.9 9.9 0 1 0 -19.8 0M47.5 111.4m-9.7 0a9.7 9.7 0 1 0 19.4 0a9.7 9.7 0 1 0 -19.4 0M65.2 109.1m-9.5 0a9.5 9.5 0 1 0 18.9 0a9.5 9.5 0 1 0 -18.9 0M82.1 106.9m-9.3 0a9.3 9.3 0 1 0 18.5 0a9.3 9.3 0 1 0 -18.5 0M98.3 104.8m-9.1 0a9.1 9.1 0 1 0 18.1 0a9.1 9.1 0 1 0 -18.1 0M113.8 102.9m-8.9 0a8.9 8.9 0 1 0 17.8 0a8.9 8.9 0 1 0 -17.8 0M128.6 100.9m-8.7 0a8.7 8.7 0 1 0 17.4 0a8.7 8.7 0 1 0 -17.4 0M142.9 99.1m-8.5 0a8.5 8.5 0 1 0 17 0a8.5 8.5 0 1 0 -17 0M156.6 97.4m-8.4 0a8.4 8.4 0 1 0 16.7 0a8.4 8.4 0 1 0 -16.7 0M169.8 95.7m-8.2 0a8.2 8.2 0 1 0 16.4 0a8.2 8.2 0 1 0 -16.4 0M26.7 124.3m-10.9 0a10.9 10.9 0 1 0 21.9 0a10.9 10.9 0 1 0 -21.9 0M47.1 121.4m-10.7 0a10.7 10.7 0 1 0 21.3 0a10.7 10.7 0 1 0 -21.3 0M66.5 118.7m-10.4 0a10.4 10.4 0 1 0 20.8 0a10.4 10.4 0 1 0 -20.8 0M85 116.1m-10.1 0a10.1 10.1 0 1 0 20.3 0a10.1 10.1 0 1 0 -20.3 0M102.6 113.6m-9.9 0a9.9 9.9 0 1 0 19.8 0a9.9 9.9 0 1 0 -19.8 0M119.4 111.2m-9.7 0a9.7 9.7 0 1 0 19.4 0a9.7 9.7 0 1 0 -19.4 0M135.5 109m-9.5 0a9.5 9.5 0 1 0 18.9 0a9.5 9.5 0 1 0 -18.9 0M150.8 106.8m-9.3 0a9.3 9.3 0 1 0 18.5 0a9.3 9.3 0 1 0 -18.5 0M165.5 104.7m-9.1 0a9.1 9.1 0 1 0 18.1 0a9.1 9.1 0 1 0 -18.1 0M163.9 113.1m-7.7 0a7.7 7.7 0 1 0 15.5 0a7.7 7.7 0 1 0 -15.5 0M162.3 119.2m-6.2 0a6.2 6.2 0 1 0 12.4 0a6.2 6.2 0 1 0 -12.4 0M24 137.2m-12.2 0a12.2 12.2 0 1 0 24.3 0a12.2 12.2 0 1 0 -24.3 0M46.7 133.7m-11.8 0a11.8 11.8 0 1 0 23.6 0a11.8 11.8 0 1 0 -23.6 0M68.2 130.3m-11.5 0a11.5 11.5 0 1 0 23 0a11.5 11.5 0 1 0 -23 0M88.6 127.1m-11.2 0a11.2 11.2 0 1 0 22.4 0a11.2 11.2 0 1 0 -22.4 0M107.9 124.1m-10.9 0a10.9 10.9 0 1 0 21.8 0a10.9 10.9 0 1 0 -21.8 0M126.2 121.2m-10.6 0a10.6 10.6 0 1 0 21.3 0a10.6 10.6 0 1 0 -21.3 0M143.6 118.5m-10.4 0a10.4 10.4 0 1 0 20.7 0a10.4 10.4 0 1 0 -20.7 0M160.2 115.9m-10.1 0a10.1 10.1 0 1 0 20.2 0a10.1 10.1 0 1 0 -20.2 0M26 148.5m-11 0a11 11 0 1 0 22 0a11 11 0 1 0 -22 0M48.3 144.7m-10.7 0a10.7 10.7 0 1 0 21.3 0a10.7 10.7 0 1 0 -21.3 0M69.3 141m-10.3 0a10.3 10.3 0 1 0 20.6 0a10.3 10.3 0 1 0 -20.6 0M89.2 137.5m-10 0a10 10 0 1 0 20 0a10 10 0 1 0 -20 0M108.1 134.2m-9.7 0a9.7 9.7 0 1 0 19.3 0a9.7 9.7 0 1 0 -19.3 0M125.9 131.1m-9.4 0a9.4 9.4 0 1 0 18.8 0a9.4 9.4 0 1 0 -18.8 0M142.9 128.2m-9.1 0a9.1 9.1 0 1 0 18.2 0a9.1 9.1 0 1 0 -18.2 0M159.1 125.3m-8.8 0a8.8 8.8 0 1 0 17.7 0a8.8 8.8 0 1 0 -17.7 0M28 156.7m-8.9 0a8.9 8.9 0 1 0 17.7 0a8.9 8.9 0 1 0 -17.7 0M49.8 152.6m-8.6 0a8.6 8.6 0 1 0 17.1 0a8.6 8.6 0 1 0 -17.1 0M70.4 148.7m-8.3 0a8.3 8.3 0 1 0 16.6 0a8.3 8.3 0 1 0 -16.6 0M89.9 145m-8 0a8 8 0 1 0 16 0a8 8 0 1 0 -16 0M108.3 141.5m-7.8 0a7.8 7.8 0 1 0 15.5 0a7.8 7.8 0 1 0 -15.5 0M125.7 138.2m-7.5 0a7.5 7.5 0 1 0 15.1 0a7.5 7.5 0 1 0 -15.1 0M142.2 135.1m-7.3 0a7.3 7.3 0 1 0 14.6 0a7.3 7.3 0 1 0 -14.6 0M157.9 132.1m-7.1 0a7.1 7.1 0 1 0 14.2 0a7.1 7.1 0 1 0 -14.2 0" fill="#387480"/>
<path d="M18.6 107.3 L26 148.5 L48.3 144.7 L69.3 141 L89.2 137.5 L108.1 134.2 L125.9 131.1 L142.9 128.2 L159.1 125.3 L163.9 113.1" fill="none" stroke="#387480" stroke-width="13" stroke-linejoin="round" stroke-linecap="round"/>
<circle cx="49.4" cy="56.7" r="2.6" fill="url(#gNi)"/>
<circle cx="57.6" cy="56.2" r="2.5" fill="url(#gS)"/>
<circle cx="65.7" cy="55.7" r="2.5" fill="url(#gNi)"/>
<circle cx="73.5" cy="55.2" r="2.4" fill="url(#gNi4)"/>
<circle cx="40.5" cy="59.2" r="2.8" fill="url(#gNi1)"/>
<circle cx="49.3" cy="58.7" r="2.7" fill="url(#gNi)"/>
<circle cx="57.9" cy="58.2" r="2.7" fill="url(#gS)"/>
<circle cx="66.3" cy="57.6" r="2.6" fill="url(#gNi)"/>
<circle cx="74.5" cy="57.1" r="2.6" fill="url(#gNi)"/>
<circle cx="82.5" cy="56.6" r="2.6" fill="url(#gNi4)"/>
<circle cx="90.4" cy="56.1" r="2.5" fill="url(#gS)"/>
<circle cx="98.1" cy="55.7" r="2.5" fill="url(#gNi4)"/>
<circle cx="105.6" cy="55.2" r="2.4" fill="url(#gNi5)"/>
<circle cx="30.7" cy="62.1" r="3" fill="url(#gNi2)"/>
<circle cx="40.1" cy="61.5" r="2.9" fill="url(#gNi1)"/>
<circle cx="49.2" cy="60.9" r="2.9" fill="url(#gNi)"/>
<circle cx="58.2" cy="60.3" r="2.8" fill="url(#gS)"/>
<circle cx="67" cy="59.7" r="2.8" fill="url(#gNi)"/>
<circle cx="75.5" cy="59.2" r="2.8" fill="url(#gNi)"/>
<circle cx="83.9" cy="58.7" r="2.7" fill="url(#gNi4)"/>
<circle cx="92.1" cy="58.1" r="2.7" fill="url(#gS)"/>
<circle cx="100.1" cy="57.6" r="2.6" fill="url(#gNi4)"/>
<circle cx="107.9" cy="57.1" r="2.6" fill="url(#gNi5)"/>
<circle cx="115.6" cy="56.6" r="2.5" fill="url(#gNi5)"/>
<circle cx="123.1" cy="56.1" r="2.5" fill="url(#gNi5)"/>
<circle cx="29.7" cy="64.6" r="3.2" fill="url(#gNi2)"/>
<circle cx="39.5" cy="64" r="3.1" fill="url(#gNi1)"/>
<circle cx="49.2" cy="63.3" r="3.1" fill="url(#gNi1)"/>
<circle cx="58.5" cy="62.7" r="3" fill="url(#gS)"/>
<circle cx="67.7" cy="62.1" r="3" fill="url(#gNi)"/>
<circle cx="76.6" cy="61.4" r="2.9" fill="url(#gNi)"/>
<circle cx="85.4" cy="60.9" r="2.9" fill="url(#gNi4)"/>
<circle cx="93.9" cy="60.3" r="2.8" fill="url(#gS)"/>
<circle cx="102.3" cy="59.7" r="2.8" fill="url(#gNi4)"/>
<circle cx="110.4" cy="59.2" r="2.7" fill="url(#gNi5)"/>
<circle cx="118.4" cy="58.6" r="2.7" fill="url(#gNi5)"/>
<circle cx="126.2" cy="58.1" r="2.7" fill="url(#gNi5)"/>
<circle cx="133.9" cy="57.6" r="2.6" fill="url(#gNi5)"/>
<circle cx="28.6" cy="67.4" r="3.4" fill="url(#gNi2)"/>
<circle cx="39" cy="66.7" r="3.4" fill="url(#gNi1)"/>
<circle cx="49.1" cy="66" r="3.3" fill="url(#gNi1)"/>
<circle cx="58.9" cy="65.3" r="3.2" fill="url(#gS)"/>
<circle cx="68.5" cy="64.6" r="3.2" fill="url(#gNi)"/>
<circle cx="77.9" cy="63.9" r="3.1" fill="url(#gNi)"/>
<circle cx="87" cy="63.3" r="3.1" fill="url(#gNi4)"/>
<circle cx="95.9" cy="62.6" r="3" fill="url(#gS)"/>
<circle cx="104.6" cy="62" r="3" fill="url(#gNi4)"/>
<circle cx="113.1" cy="61.4" r="2.9" fill="url(#gNi5)"/>
<circle cx="121.5" cy="60.8" r="2.9" fill="url(#gNi5)"/>
<circle cx="129.6" cy="60.2" r="2.8" fill="url(#gNi5)"/>
<circle cx="137.5" cy="59.7" r="2.8" fill="url(#gNi5)"/>
<circle cx="145.3" cy="59.1" r="2.7" fill="url(#gNi5)"/>
<circle cx="27.4" cy="70.5" r="3.7" fill="url(#gNi2)"/>
<circle cx="38.3" cy="69.7" r="3.6" fill="url(#gNi1)"/>
<circle cx="49" cy="68.9" r="3.6" fill="url(#gNi1)"/>
<circle cx="59.3" cy="68.1" r="3.5" fill="url(#gS)"/>
<circle cx="69.4" cy="67.4" r="3.4" fill="url(#gNi)"/>
<circle cx="79.2" cy="66.6" r="3.4" fill="url(#gNi)"/>
<circle cx="88.8" cy="65.9" r="3.3" fill="url(#gNi4)"/>
<circle cx="98.1" cy="65.2" r="3.2" fill="url(#gS)"/>
<circle cx="107.2" cy="64.5" r="3.2" fill="url(#gNi4)"/>
<circle cx="116.1" cy="63.9" r="3.1" fill="url(#gNi4)"/>
<circle cx="124.8" cy="63.2" r="3.1" fill="url(#gNi5)"/>
<circle cx="133.3" cy="62.6" r="3" fill="url(#gNi5)"/>
<circle cx="141.5" cy="62" r="3" fill="url(#gNi5)"/>
<circle cx="149.6" cy="61.4" r="2.9" fill="url(#gNi5)"/>
<circle cx="26.1" cy="73.9" r="4" fill="url(#gNi2)"/>
<circle cx="37.6" cy="73" r="3.9" fill="url(#gNi2)"/>
<circle cx="48.8" cy="72.1" r="3.8" fill="url(#gNi1)"/>
<circle cx="59.8" cy="71.3" r="3.8" fill="url(#gS)"/>
<circle cx="70.4" cy="70.4" r="3.7" fill="url(#gNi)"/>
<circle cx="80.7" cy="69.6" r="3.6" fill="url(#gNi)"/>
<circle cx="90.8" cy="68.8" r="3.5" fill="url(#gNi)"/>
<circle cx="100.6" cy="68.1" r="3.5" fill="url(#gS)"/>
<circle cx="110.1" cy="67.3" r="3.4" fill="url(#gNi4)"/>
<circle cx="119.4" cy="66.6" r="3.4" fill="url(#gNi4)"/>
<circle cx="128.5" cy="65.9" r="3.3" fill="url(#gNi5)"/>
<circle cx="137.3" cy="65.2" r="3.2" fill="url(#gNi5)"/>
<circle cx="145.9" cy="64.5" r="3.2" fill="url(#gNi5)"/>
<circle cx="154.3" cy="63.8" r="3.1" fill="url(#gNi5)"/>
<circle cx="24.6" cy="77.8" r="4.3" fill="url(#gNi3)"/>
<circle cx="36.8" cy="76.8" r="4.2" fill="url(#gNi2)"/>
<circle cx="48.7" cy="75.8" r="4.2" fill="url(#gNi1)"/>
<circle cx="60.3" cy="74.8" r="4.1" fill="url(#gS)"/>
<circle cx="71.5" cy="73.9" r="4" fill="url(#gNi)"/>
<circle cx="82.4" cy="73" r="3.9" fill="url(#gNi)"/>
<circle cx="93" cy="72.1" r="3.8" fill="url(#gNi)"/>
<circle cx="103.3" cy="71.2" r="3.8" fill="url(#gS)"/>
<circle cx="113.3" cy="70.4" r="3.7" fill="url(#gNi4)"/>
<circle cx="123" cy="69.6" r="3.6" fill="url(#gCr)"/>
<circle cx="132.5" cy="68.8" r="3.5" fill="url(#gNi5)"/>
<circle cx="141.7" cy="68" r="3.5" fill="url(#gNi5)"/>
<circle cx="150.7" cy="67.3" r="3.4" fill="url(#gNi5)"/>
<circle cx="159.5" cy="66.5" r="3.4" fill="url(#gNi5)"/>
<circle cx="22.9" cy="82.1" r="4.7" fill="url(#gNi3)"/>
<circle cx="35.9" cy="81" r="4.6" fill="url(#gNi2)"/>
<circle cx="48.6" cy="79.9" r="4.5" fill="url(#gNi1)"/>
<circle cx="60.8" cy="78.8" r="4.4" fill="url(#gS)"/>
<circle cx="72.7" cy="77.7" r="4.3" fill="url(#gNi)"/>
<circle cx="84.2" cy="76.7" r="4.2" fill="url(#gCr)"/>
<circle cx="95.4" cy="75.7" r="4.2" fill="url(#gNi)"/>
<circle cx="106.3" cy="74.8" r="4.1" fill="url(#gS)"/>
<circle cx="116.8" cy="73.8" r="4" fill="url(#gNi4)"/>
<circle cx="127.1" cy="72.9" r="3.9" fill="url(#gNi4)"/>
<circle cx="137" cy="72" r="3.8" fill="url(#gNi5)"/>
<circle cx="146.7" cy="71.2" r="3.8" fill="url(#gNi5)"/>
<circle cx="156.1" cy="70.3" r="3.7" fill="url(#gNi5)"/>
<circle cx="20.9" cy="87.1" r="5.2" fill="url(#gNi3)"/>
<circle cx="34.9" cy="85.8" r="5.1" fill="url(#gNi2)"/>
<circle cx="48.4" cy="84.5" r="5" fill="url(#gNi1)"/>
<circle cx="61.5" cy="83.3" r="4.8" fill="url(#gS)"/>
<circle cx="74.1" cy="82.1" r="4.7" fill="url(#gNi)"/>
<circle cx="86.3" cy="80.9" r="4.6" fill="url(#gNi)"/>
<circle cx="98.2" cy="79.8" r="4.5" fill="url(#gNi)"/>
<circle cx="109.7" cy="78.7" r="4.4" fill="url(#gS)"/>
<circle cx="120.8" cy="77.7" r="4.3" fill="url(#gNi4)"/>
<circle cx="131.6" cy="76.6" r="4.2" fill="url(#gNi4)"/>
<circle cx="142" cy="75.7" r="4.1" fill="url(#gNi5)"/>
<circle cx="152.2" cy="74.7" r="4.1" fill="url(#gNi5)"/>
<circle cx="162.1" cy="73.8" r="4" fill="url(#gNi5)"/>
<circle cx="18.7" cy="92.8" r="5.8" fill="url(#gNi3)"/>
<circle cx="33.7" cy="91.2" r="5.6" fill="url(#gNi2)"/>
<circle cx="48.2" cy="89.8" r="5.5" fill="url(#gNi1)"/>
<circle cx="62.2" cy="88.4" r="5.3" fill="url(#gS)"/>
<circle cx="75.7" cy="87" r="5.2" fill="url(#gNi)"/>
<circle cx="88.7" cy="85.7" r="5.1" fill="url(#gNi)"/>
<circle cx="101.3" cy="84.4" r="5" fill="url(#gCr)"/>
<circle cx="113.5" cy="83.2" r="4.8" fill="url(#gS)"/>
<circle cx="125.2" cy="82" r="4.7" fill="url(#gNi4)"/>
<circle cx="136.6" cy="80.8" r="4.6" fill="url(#gNi4)"/>
<circle cx="147.7" cy="79.7" r="4.5" fill="url(#gNi5)"/>
<circle cx="158.4" cy="78.6" r="4.4" fill="url(#gNi5)"/>
<circle cx="16.2" cy="99.3" r="6.4" fill="url(#gNi3)"/>
<circle cx="32.4" cy="97.6" r="6.2" fill="url(#gNi2)"/>
<circle cx="48" cy="95.9" r="6.1" fill="url(#gNi1)"/>
<circle cx="63" cy="94.2" r="5.9" fill="url(#gS)"/>
<circle cx="77.5" cy="92.7" r="5.8" fill="url(#gNi)"/>
<circle cx="91.4" cy="91.2" r="5.6" fill="url(#gNi)"/>
<circle cx="104.9" cy="89.7" r="5.5" fill="url(#gNi)"/>
<circle cx="117.8" cy="88.3" r="5.3" fill="url(#gS)"/>
<circle cx="130.3" cy="86.9" r="5.2" fill="url(#gNi4)"/>
<circle cx="142.4" cy="85.6" r="5.1" fill="url(#gNi4)"/>
<circle cx="154.1" cy="84.3" r="4.9" fill="url(#gNi5)"/>
<circle cx="165.4" cy="83.1" r="4.8" fill="url(#gNi5)"/>
<circle cx="21.1" cy="113" r="6.4" fill="url(#gNi3)"/>
<circle cx="30.8" cy="105" r="7" fill="url(#gNi2)"/>
<circle cx="47.8" cy="103" r="6.8" fill="url(#gNi1)"/>
<circle cx="64" cy="101.1" r="6.6" fill="url(#gS)"/>
<circle cx="79.6" cy="99.2" r="6.4" fill="url(#gNi)"/>
<circle cx="94.6" cy="97.5" r="6.2" fill="url(#gNi)"/>
<circle cx="109" cy="95.8" r="6.1" fill="url(#gNi)"/>
<circle cx="122.8" cy="94.1" r="5.9" fill="url(#gS)"/>
<circle cx="136.1" cy="92.6" r="5.7" fill="url(#gNi4)"/>
<circle cx="149" cy="91.1" r="5.6" fill="url(#gNi4)"/>
<circle cx="161.4" cy="89.6" r="5.5" fill="url(#gNi5)"/>
<circle cx="29" cy="113.7" r="7.9" fill="url(#gNi3)"/>
<circle cx="47.5" cy="111.4" r="7.7" fill="url(#gNi1)"/>
<circle cx="65.2" cy="109.1" r="7.4" fill="url(#gS)"/>
<circle cx="82.1" cy="106.9" r="7.2" fill="url(#gNi)"/>
<circle cx="98.3" cy="104.8" r="7" fill="url(#gNi)"/>
<circle cx="113.8" cy="102.9" r="6.8" fill="url(#gNi)"/>
<circle cx="128.6" cy="100.9" r="6.6" fill="url(#gS)"/>
<circle cx="142.9" cy="99.1" r="6.4" fill="url(#gNi4)"/>
<circle cx="156.6" cy="97.4" r="6.2" fill="url(#gNi4)"/>
<circle cx="169.8" cy="95.7" r="6.1" fill="url(#gNi5)"/>
<circle cx="26.7" cy="124.3" r="9.1" fill="url(#gNi3)"/>
<circle cx="47.1" cy="121.4" r="8.8" fill="url(#gNi1)"/>
<circle cx="66.5" cy="118.7" r="8.5" fill="url(#gS)"/>
<circle cx="85" cy="116.1" r="8.2" fill="url(#gCr)"/>
<circle cx="102.6" cy="113.6" r="7.9" fill="url(#gNi)"/>
<circle cx="119.4" cy="111.2" r="7.7" fill="url(#gNi)"/>
<circle cx="135.5" cy="109" r="7.4" fill="url(#gS)"/>
<circle cx="150.8" cy="106.8" r="7.2" fill="url(#gNi)"/>
<circle cx="165.5" cy="104.7" r="7" fill="url(#gNi4)"/>
<circle cx="162.3" cy="119.2" r="6.9" fill="url(#gNi)"/>
<circle cx="24" cy="137.2" r="10.6" fill="url(#gNi3)"/>
<circle cx="46.7" cy="133.7" r="10.2" fill="url(#gNi1)"/>
<circle cx="68.2" cy="130.3" r="9.8" fill="url(#gS)"/>
<circle cx="88.6" cy="127.1" r="9.4" fill="url(#gNi)"/>
<circle cx="107.9" cy="124.1" r="9.1" fill="url(#gNi)"/>
<circle cx="126.2" cy="121.2" r="8.8" fill="url(#gNi)"/>
<circle cx="143.6" cy="118.5" r="8.5" fill="url(#gS)"/>
<circle cx="160.2" cy="115.9" r="8.2" fill="url(#gNi)"/>
<circle cx="28" cy="156.7" r="9.8" fill="url(#gNi3)"/>
<circle cx="49.8" cy="152.6" r="9.5" fill="url(#gNi1)"/>
<circle cx="70.4" cy="148.7" r="9.2" fill="url(#gNi)"/>
<circle cx="89.9" cy="145" r="8.9" fill="url(#gS)"/>
<circle cx="108.3" cy="141.5" r="8.6" fill="url(#gNi)"/>
<circle cx="125.7" cy="138.2" r="8.4" fill="url(#gS)"/>
<circle cx="142.2" cy="135.1" r="8.1" fill="url(#gNi)"/>
<circle cx="157.9" cy="132.1" r="7.9" fill="url(#gNi)"/>
</g></g>
</defs>
<rect x="533.5" y="1" width="529.5" height="45" fill="#8faadc"/>
<rect x="728" y="394.5" width="327.5" height="39" fill="#a6a6a6"/>
<g><g clip-path="url(#c1)"><use href="#slabCr"/></g><path d="M41 60 C 43 84 48 103 60 112 L 56.5 118.5 L 80 114 L 74.5 93 L 70.5 100 C 58 92 48 78 41 60 Z" fill="url(#swoosh)" opacity="0.93"/></g>
<g transform="translate(248,-5.2) scale(1.085)"><g clip-path="url(#c2)"><use href="#slabCr"/></g><path d="M41 60 C 43 84 48 103 60 112 L 56.5 118.5 L 80 114 L 74.5 93 L 70.5 100 C 58 92 48 78 41 60 Z" fill="url(#swoosh)" opacity="0.93"/></g>
<g transform="translate(10,216)"><g clip-path="url(#c3)"><use href="#slabNi"/></g><path d="M41 60 C 43 84 48 103 60 112 L 56.5 118.5 L 80 114 L 74.5 93 L 70.5 100 C 58 92 48 78 41 60 Z" fill="url(#swoosh)" opacity="0.93"/></g>
<g transform="translate(269,215.7) scale(1.02)"><g clip-path="url(#c4)"><use href="#slabNi"/></g><g transform="translate(-1.5,12.5) scale(1,0.82)"><path d="M41 60 C 43 84 48 103 60 112 L 56.5 118.5 L 80 114 L 74.5 93 L 70.5 100 C 58 92 48 78 41 60 Z" fill="url(#swoosh)" opacity="0.93"/></g></g>
<line x1="28.8" y1="50.3" x2="40.8" y2="36.7" stroke="#b0b0b8" stroke-width="1.9" stroke-linecap="round"/><circle cx="28.8" cy="50.3" r="5.1" fill="url(#mH)"/><circle cx="40.8" cy="36.7" r="7.6" fill="url(#mO)"/>
<line x1="7.8" y1="80.6" x2="19.6" y2="68.6" stroke="#b0b0b8" stroke-width="1.9" stroke-linecap="round"/><circle cx="7.8" cy="80.6" r="5.1" fill="url(#mH)"/><circle cx="19.6" cy="68.6" r="7.6" fill="url(#mO)"/>
<line x1="280.9" y1="53" x2="292.3" y2="39.8" stroke="#b0b0b8" stroke-width="1.9" stroke-linecap="round"/><circle cx="280.9" cy="53" r="5.1" fill="url(#mH)"/><circle cx="292.3" cy="39.8" r="7.6" fill="url(#mO)"/>
<line x1="257.9" y1="82.7" x2="268.9" y2="70.3" stroke="#b0b0b8" stroke-width="1.9" stroke-linecap="round"/><circle cx="257.9" cy="82.7" r="5.1" fill="url(#mH)"/><circle cx="268.9" cy="70.3" r="7.6" fill="url(#mO)"/>
<line x1="29" y1="267.3" x2="40.5" y2="253.3" stroke="#b0b0b8" stroke-width="1.9" stroke-linecap="round"/><circle cx="29" cy="267.3" r="5.1" fill="url(#mH)"/><circle cx="40.5" cy="253.3" r="7.6" fill="url(#mO)"/>
<line x1="285.6" y1="261.3" x2="298.3" y2="248" stroke="#b0b0b8" stroke-width="1.9" stroke-linecap="round"/><circle cx="285.6" cy="261.3" r="5.1" fill="url(#mH)"/><circle cx="298.3" cy="248" r="7.6" fill="url(#mO)"/>
<line x1="129" y1="30" x2="139.9" y2="29" stroke="#b0b0b8" stroke-width="1.9" stroke-linecap="round"/><line x1="130.3" y1="39" x2="139.9" y2="29" stroke="#b0b0b8" stroke-width="1.9" stroke-linecap="round"/><line x1="139.9" y1="29" x2="166" y2="36.7" stroke="#b0b0b8" stroke-width="1.9" stroke-linecap="round"/><line x1="183" y1="22.3" x2="166" y2="36.7" stroke="#b0b0b8" stroke-width="1.9" stroke-linecap="round"/><line x1="166" y1="36.7" x2="171" y2="63.5" stroke="#b0b0b8" stroke-width="1.9" stroke-linecap="round"/><line x1="183" y1="64.6" x2="171" y2="63.5" stroke="#b0b0b8" stroke-width="1.9" stroke-linecap="round"/><line x1="171" y1="63.5" x2="179.3" y2="71.3" stroke="#b0b0b8" stroke-width="1.9" stroke-linecap="round"/><circle cx="129" cy="30" r="3.5" fill="url(#mH)"/><circle cx="130.3" cy="39" r="5.4" fill="url(#mH)"/><circle cx="139.9" cy="29" r="7.8" fill="url(#mN)"/><circle cx="183" cy="22.3" r="7.7" fill="url(#mO)"/><circle cx="166" cy="36.7" r="8" fill="url(#mC)"/><circle cx="183" cy="64.6" r="4.6" fill="url(#mH)"/><circle cx="171" cy="63.5" r="7.7" fill="url(#mN)"/><circle cx="179.3" cy="71.3" r="5.2" fill="url(#mH)"/>
<line x1="392.4" y1="21.3" x2="402.6" y2="22.6" stroke="#b0b0b8" stroke-width="1.9" stroke-linecap="round"/><line x1="389.6" y1="29.8" x2="402.6" y2="22.6" stroke="#b0b0b8" stroke-width="1.9" stroke-linecap="round"/><line x1="402.6" y1="22.6" x2="425.5" y2="35.2" stroke="#b0b0b8" stroke-width="1.9" stroke-linecap="round"/><line x1="445.8" y1="23.8" x2="425.5" y2="35.2" stroke="#b0b0b8" stroke-width="1.9" stroke-linecap="round"/><line x1="425.5" y1="35.2" x2="426.1" y2="61.3" stroke="#b0b0b8" stroke-width="1.9" stroke-linecap="round"/><line x1="440" y1="66" x2="426.1" y2="61.3" stroke="#b0b0b8" stroke-width="1.9" stroke-linecap="round"/><line x1="426.1" y1="61.3" x2="433.1" y2="71.3" stroke="#b0b0b8" stroke-width="1.9" stroke-linecap="round"/><circle cx="392.4" cy="21.3" r="3.5" fill="url(#mH)"/><circle cx="389.6" cy="29.8" r="5.4" fill="url(#mH)"/><circle cx="402.6" cy="22.6" r="7.8" fill="url(#mN)"/><circle cx="445.8" cy="23.8" r="7.7" fill="url(#mO)"/><circle cx="425.5" cy="35.2" r="8" fill="url(#mC)"/><circle cx="440" cy="66" r="4.6" fill="url(#mH)"/><circle cx="426.1" cy="61.3" r="7.7" fill="url(#mN)"/><circle cx="433.1" cy="71.3" r="5.2" fill="url(#mH)"/>
<line x1="130.3" y1="244" x2="140.8" y2="242.8" stroke="#b0b0b8" stroke-width="1.9" stroke-linecap="round"/><line x1="130.3" y1="253.3" x2="140.8" y2="242.8" stroke="#b0b0b8" stroke-width="1.9" stroke-linecap="round"/><line x1="140.8" y1="242.8" x2="166" y2="250.6" stroke="#b0b0b8" stroke-width="1.9" stroke-linecap="round"/><line x1="184.4" y1="236.2" x2="166" y2="250.6" stroke="#b0b0b8" stroke-width="1.9" stroke-linecap="round"/><line x1="166" y1="250.6" x2="172" y2="277.8" stroke="#b0b0b8" stroke-width="1.9" stroke-linecap="round"/><line x1="184.9" y1="279" x2="172" y2="277.8" stroke="#b0b0b8" stroke-width="1.9" stroke-linecap="round"/><line x1="172" y1="277.8" x2="180" y2="285.8" stroke="#b0b0b8" stroke-width="1.9" stroke-linecap="round"/><circle cx="130.3" cy="244" r="3.5" fill="url(#mH)"/><circle cx="130.3" cy="253.3" r="5.4" fill="url(#mH)"/><circle cx="140.8" cy="242.8" r="7.8" fill="url(#mN)"/><circle cx="184.4" cy="236.2" r="7.7" fill="url(#mO)"/><circle cx="166" cy="250.6" r="8" fill="url(#mC)"/><circle cx="184.9" cy="279" r="4.6" fill="url(#mH)"/><circle cx="172" cy="277.8" r="7.7" fill="url(#mN)"/><circle cx="180" cy="285.8" r="5.2" fill="url(#mH)"/>
<line x1="388" y1="238.4" x2="398.5" y2="236.2" stroke="#b0b0b8" stroke-width="1.9" stroke-linecap="round"/><line x1="388" y1="246.2" x2="398.5" y2="236.2" stroke="#b0b0b8" stroke-width="1.9" stroke-linecap="round"/><line x1="398.5" y1="236.2" x2="424.4" y2="245" stroke="#b0b0b8" stroke-width="1.9" stroke-linecap="round"/><line x1="442.6" y1="230.1" x2="424.4" y2="245" stroke="#b0b0b8" stroke-width="1.9" stroke-linecap="round"/><line x1="424.4" y1="245" x2="429.7" y2="271.1" stroke="#b0b0b8" stroke-width="1.9" stroke-linecap="round"/><line x1="443" y1="273.4" x2="429.7" y2="271.1" stroke="#b0b0b8" stroke-width="1.9" stroke-linecap="round"/><line x1="429.7" y1="271.1" x2="438.2" y2="279.6" stroke="#b0b0b8" stroke-width="1.9" stroke-linecap="round"/><circle cx="388" cy="238.4" r="3.5" fill="url(#mH)"/><circle cx="388" cy="246.2" r="5.4" fill="url(#mH)"/><circle cx="398.5" cy="236.2" r="7.8" fill="url(#mN)"/><circle cx="442.6" cy="230.1" r="7.7" fill="url(#mO)"/><circle cx="424.4" cy="245" r="8" fill="url(#mC)"/><circle cx="443" cy="273.4" r="4.6" fill="url(#mH)"/><circle cx="429.7" cy="271.1" r="7.7" fill="url(#mN)"/><circle cx="438.2" cy="279.6" r="5.2" fill="url(#mH)"/>
<circle cx="105" cy="109.7" r="1.35" fill="#e8141c"/><circle cx="109.3" cy="106.9" r="1.35" fill="#e8141c"/><circle cx="113.6" cy="104.1" r="1.35" fill="#e8141c"/><circle cx="117.9" cy="101.3" r="1.35" fill="#e8141c"/><circle cx="122.2" cy="98.5" r="1.35" fill="#e8141c"/><circle cx="126.5" cy="95.7" r="1.35" fill="#e8141c"/><circle cx="130.8" cy="92.9" r="1.35" fill="#e8141c"/><circle cx="135.1" cy="90.1" r="1.35" fill="#e8141c"/><circle cx="139.4" cy="87.3" r="1.35" fill="#e8141c"/><circle cx="143.7" cy="84.5" r="1.35" fill="#e8141c"/><circle cx="148" cy="81.7" r="1.35" fill="#e8141c"/><circle cx="152.3" cy="78.9" r="1.35" fill="#e8141c"/><circle cx="156.6" cy="76.1" r="1.35" fill="#e8141c"/><circle cx="160.9" cy="73.3" r="1.35" fill="#e8141c"/><circle cx="165.2" cy="70.5" r="1.35" fill="#e8141c"/><circle cx="169.5" cy="67.7" r="1.35" fill="#e8141c"/>
<circle cx="366" cy="112.4" r="1.35" fill="#e8141c"/><circle cx="370.2" cy="109.1" r="1.35" fill="#e8141c"/><circle cx="374.4" cy="105.8" r="1.35" fill="#e8141c"/><circle cx="378.5" cy="102.6" r="1.35" fill="#e8141c"/><circle cx="382.7" cy="99.3" r="1.35" fill="#e8141c"/><circle cx="386.9" cy="96" r="1.35" fill="#e8141c"/><circle cx="391.1" cy="92.7" r="1.35" fill="#e8141c"/><circle cx="395.2" cy="89.5" r="1.35" fill="#e8141c"/><circle cx="399.4" cy="86.2" r="1.35" fill="#e8141c"/><circle cx="403.6" cy="82.9" r="1.35" fill="#e8141c"/><circle cx="407.8" cy="79.6" r="1.35" fill="#e8141c"/><circle cx="412" cy="76.3" r="1.35" fill="#e8141c"/><circle cx="416.1" cy="73.1" r="1.35" fill="#e8141c"/><circle cx="420.3" cy="69.8" r="1.35" fill="#e8141c"/><circle cx="424.5" cy="66.5" r="1.35" fill="#e8141c"/>
<circle cx="105.6" cy="324.5" r="1.35" fill="#e8141c"/><circle cx="110" cy="321.7" r="1.35" fill="#e8141c"/><circle cx="114.4" cy="318.9" r="1.35" fill="#e8141c"/><circle cx="118.8" cy="316.1" r="1.35" fill="#e8141c"/><circle cx="123.2" cy="313.3" r="1.35" fill="#e8141c"/><circle cx="127.6" cy="310.5" r="1.35" fill="#e8141c"/><circle cx="132" cy="307.7" r="1.35" fill="#e8141c"/><circle cx="136.4" cy="304.9" r="1.35" fill="#e8141c"/><circle cx="140.7" cy="302.1" r="1.35" fill="#e8141c"/><circle cx="145.1" cy="299.3" r="1.35" fill="#e8141c"/><circle cx="149.5" cy="296.5" r="1.35" fill="#e8141c"/><circle cx="153.9" cy="293.7" r="1.35" fill="#e8141c"/><circle cx="158.3" cy="290.9" r="1.35" fill="#e8141c"/><circle cx="162.7" cy="288.1" r="1.35" fill="#e8141c"/><circle cx="167.1" cy="285.3" r="1.35" fill="#e8141c"/><circle cx="171.5" cy="282.5" r="1.35" fill="#e8141c"/>
<circle cx="365" cy="319.5" r="1.35" fill="#e8141c"/><circle cx="369.2" cy="316.4" r="1.35" fill="#e8141c"/><circle cx="373.5" cy="313.3" r="1.35" fill="#e8141c"/><circle cx="377.7" cy="310.2" r="1.35" fill="#e8141c"/><circle cx="381.9" cy="307.1" r="1.35" fill="#e8141c"/><circle cx="386.2" cy="304" r="1.35" fill="#e8141c"/><circle cx="390.4" cy="300.9" r="1.35" fill="#e8141c"/><circle cx="394.6" cy="297.8" r="1.35" fill="#e8141c"/><circle cx="398.9" cy="294.7" r="1.35" fill="#e8141c"/><circle cx="403.1" cy="291.6" r="1.35" fill="#e8141c"/><circle cx="407.3" cy="288.5" r="1.35" fill="#e8141c"/><circle cx="411.6" cy="285.4" r="1.35" fill="#e8141c"/><circle cx="415.8" cy="282.3" r="1.35" fill="#e8141c"/><circle cx="420" cy="279.2" r="1.35" fill="#e8141c"/><circle cx="424.3" cy="276.1" r="1.35" fill="#e8141c"/><circle cx="428.5" cy="273" r="1.35" fill="#e8141c"/>
<path d="M440.5 126.6 H478 V195.6 H516" fill="none" stroke="#8faadc" stroke-width="5.2"/>
<path d="M440.5 291.8 H478 V223 H516.5" fill="none" stroke="#a6a6a6" stroke-width="5.2"/>
<line x1="550.1" y1="175" x2="549.1" y2="199.1" stroke="#b0b0b8" stroke-width="1.9" stroke-linecap="round"/><line x1="549.1" y1="199.1" x2="524.4" y2="212.1" stroke="#b0b0b8" stroke-width="1.9" stroke-linecap="round"/><line x1="549.1" y1="199.1" x2="572.5" y2="212.5" stroke="#b0b0b8" stroke-width="1.9" stroke-linecap="round"/><line x1="572.5" y1="212.5" x2="583.2" y2="204.1" stroke="#b0b0b8" stroke-width="1.9" stroke-linecap="round"/><line x1="524.4" y1="212.1" x2="525.7" y2="226.6" stroke="#b0b0b8" stroke-width="1.9" stroke-linecap="round"/><circle cx="583.2" cy="204.1" r="5.2" fill="url(#mH)"/><circle cx="550.1" cy="175" r="8.2" fill="url(#mO)"/><circle cx="549.1" cy="199.1" r="7.9" fill="url(#mC)"/><circle cx="524.4" cy="212.1" r="8.1" fill="url(#mN)"/><circle cx="572.5" cy="212.5" r="8.1" fill="url(#mN)"/><circle cx="525.7" cy="226.6" r="5.2" fill="url(#mH)"/>
<path d="M177.8 106 H253.5 V100.5 L269 109 L253.5 117.5 V112 H177.8 Z" fill="#8faadc"/>
<path d="M177.8 318.9 H253.5 V313.4 L270 321.9 L253.5 330.4 V324.9 H177.8 Z" fill="#a6a6a6"/>
<path d="M828.8 123.2 H976 V117 L994.2 126.3 L976 135.6 V129.3 H828.8 Z" fill="#8faadc"/>
<path d="M904.9 214 H991 V208.7 L1007.8 217.2 L991 225.7 V220.3 H904.9 Z" fill="#a6a6a6"/>
<path d="M841.8 304.4 H959.4 V299 L976.4 307.5 L959.4 316 V310.6 H841.8 Z" fill="#a6a6a6"/>
<path d="M597.5 198.4 H672.8 V123.3 H737" fill="none" stroke="#8faadc" stroke-width="5.3"/>
<path d="M735.8 114.4 L752.6 123.1 L735.8 131.8 Z" fill="#8faadc"/>
<path d="M597.5 215.3 H778.2" fill="none" stroke="#a6a6a6" stroke-width="5.4"/>
<path d="M671.8 215.3 V305.9 H716" fill="none" stroke="#a6a6a6" stroke-width="5.5"/>
<path d="M715.5 297.5 L732 306 L715.5 314.5 Z" fill="#a6a6a6"/>
<line x1="760.9" y1="65.3" x2="788.9" y2="66.3" stroke="#b0b0b8" stroke-width="1.9" stroke-linecap="round"/><line x1="788.9" y1="66.3" x2="818" y2="67.8" stroke="#b0b0b8" stroke-width="1.9" stroke-linecap="round"/><circle cx="760.9" cy="65.3" r="8.7" fill="url(#mO)"/><circle cx="818" cy="67.8" r="8.8" fill="url(#mN)"/><circle cx="788.9" cy="66.3" r="8.9" fill="url(#mC)"/>
<line x1="773.3" y1="125.4" x2="789.3" y2="114" stroke="#b0b0b8" stroke-width="1.9" stroke-linecap="round"/><line x1="805.1" y1="122.9" x2="789.3" y2="114" stroke="#b0b0b8" stroke-width="1.9" stroke-linecap="round"/><circle cx="773.3" cy="125.4" r="5.5" fill="url(#mH)"/><circle cx="805.1" cy="122.9" r="5.5" fill="url(#mH)"/><circle cx="789.3" cy="114" r="7.9" fill="url(#mN)"/>
<line x1="1009.7" y1="122.3" x2="1029.9" y2="134" stroke="#b0b0b8" stroke-width="1.9" stroke-linecap="round"/><line x1="1052.7" y1="120.6" x2="1029.9" y2="134" stroke="#b0b0b8" stroke-width="1.9" stroke-linecap="round"/><circle cx="1009.7" cy="122.3" r="8.1" fill="url(#mO)"/><circle cx="1052.7" cy="120.6" r="8.1" fill="url(#mO)"/><circle cx="1029.9" cy="134" r="8.1" fill="url(#mN)"/>
<line x1="808" y1="217.2" x2="827.5" y2="217.6" stroke="#e8141c" stroke-width="2.6" stroke-dasharray="3 2.2"/>
<line x1="788.3" y1="202.1" x2="800.4" y2="217.3" stroke="#b0b0b8" stroke-width="1.9" stroke-linecap="round"/><line x1="790.2" y1="233.6" x2="800.4" y2="217.3" stroke="#b0b0b8" stroke-width="1.9" stroke-linecap="round"/><circle cx="788.3" cy="202.1" r="5.1" fill="url(#mH)"/><circle cx="790.2" cy="233.6" r="5.5" fill="url(#mH)"/><circle cx="800.4" cy="217.3" r="8.2" fill="url(#mN)"/>
<line x1="858.7" y1="182.4" x2="857.8" y2="205.6" stroke="#b0b0b8" stroke-width="1.9" stroke-linecap="round"/><line x1="857.8" y1="205.6" x2="833.4" y2="218" stroke="#b0b0b8" stroke-width="1.9" stroke-linecap="round"/><line x1="857.8" y1="205.6" x2="880.8" y2="218.9" stroke="#b0b0b8" stroke-width="1.9" stroke-linecap="round"/><line x1="833.4" y1="218" x2="833.8" y2="232.6" stroke="#b0b0b8" stroke-width="1.9" stroke-linecap="round"/><line x1="880.8" y1="218.9" x2="892.7" y2="217.6" stroke="#b0b0b8" stroke-width="1.9" stroke-linecap="round"/><line x1="880.8" y1="218.9" x2="891.6" y2="209.2" stroke="#b0b0b8" stroke-width="1.9" stroke-linecap="round"/><circle cx="891.6" cy="209.2" r="4.2" fill="url(#mH)"/><circle cx="858.7" cy="182.4" r="8.1" fill="url(#mO)"/><circle cx="857.8" cy="205.6" r="8.3" fill="url(#mC)"/><circle cx="828.7" cy="226.5" r="3.2" fill="url(#mH)"/><circle cx="833.8" cy="232.6" r="5.5" fill="url(#mH)"/><circle cx="833.4" cy="218" r="8.2" fill="url(#mN)"/><circle cx="880.8" cy="218.9" r="8" fill="url(#mN)"/><circle cx="892.7" cy="217.6" r="5.5" fill="url(#mH)"/>
<line x1="1021.6" y1="217.3" x2="1041.5" y2="217.3" stroke="#b0b0b8" stroke-width="1.9" stroke-linecap="round"/><circle cx="1021.6" cy="217.3" r="7.7" fill="url(#mN)"/><circle cx="1041.5" cy="217.3" r="7.7" fill="url(#mN)"/>
<line x1="796.9" y1="269.1" x2="796" y2="293.1" stroke="#b0b0b8" stroke-width="1.9" stroke-linecap="round"/><line x1="796" y1="293.1" x2="770.4" y2="306.2" stroke="#b0b0b8" stroke-width="1.9" stroke-linecap="round"/><line x1="796" y1="293.1" x2="819.3" y2="307" stroke="#b0b0b8" stroke-width="1.9" stroke-linecap="round"/><line x1="819.3" y1="307" x2="830.7" y2="298.9" stroke="#b0b0b8" stroke-width="1.9" stroke-linecap="round"/><line x1="770.4" y1="306.2" x2="765.5" y2="315.2" stroke="#b0b0b8" stroke-width="1.9" stroke-linecap="round"/><circle cx="765.5" cy="315.2" r="4.2" fill="url(#mH)"/><circle cx="830.7" cy="298.9" r="5.2" fill="url(#mH)"/><circle cx="796.9" cy="269.1" r="7.9" fill="url(#mO)"/><circle cx="796" cy="293.1" r="8.2" fill="url(#mC)"/><circle cx="770.4" cy="306.2" r="7.9" fill="url(#mN)"/><circle cx="819.3" cy="307" r="7.9" fill="url(#mN)"/>
<line x1="772.5" y1="310.3" x2="816" y2="310.3" stroke="#e8141c" stroke-width="2.4" stroke-dasharray="2.6 2"/>
<line x1="1000.4" y1="305.5" x2="1019.4" y2="305.5" stroke="#b0b0b8" stroke-width="1.9" stroke-linecap="round"/><circle cx="1000.4" cy="305.5" r="7.6" fill="url(#mN)"/><circle cx="1019.4" cy="305.5" r="7.6" fill="url(#mN)"/>
<ellipse cx="404.2" cy="406.8" rx="12.8" ry="12.1" fill="url(#lCr)"/>
<ellipse cx="455.4" cy="406.4" rx="11.6" ry="11.1" fill="url(#lNi)"/>
<ellipse cx="506.7" cy="406.4" rx="13" ry="11.7" fill="url(#lC)"/>
<ellipse cx="550.5" cy="406.1" rx="11" ry="10.4" fill="url(#mN)"/>
<ellipse cx="593.4" cy="407.2" rx="10.6" ry="9.3" fill="url(#mO)"/>
<ellipse cx="634.8" cy="407.2" rx="10.9" ry="9.6" fill="url(#lS)"/>
<ellipse cx="678.2" cy="407.4" rx="8.4" ry="7.5" fill="url(#mH)"/>
<text x="566.3" y="31.3" font-size="21.5" text-anchor="start" fill="#fff" textLength="32.3" lengthAdjust="spacingAndGlyphs">OH</text>
<text x="598.5" y="20.5" font-size="13" text-anchor="start" fill="#fff">-</text>
<text x="612.5" y="31.3" font-size="21.5" text-anchor="start" fill="#fff" textLength="191.3" lengthAdjust="spacingAndGlyphs">spillover-mediated</text>
<text x="812" y="31.3" font-size="21.5" text-anchor="start" fill="#fff" textLength="112.3" lengthAdjust="spacingAndGlyphs">urea-to-NO</text>
<text x="924.8" y="37" font-size="14.5" text-anchor="start" fill="#fff">2</text>
<text x="938.5" y="20.5" font-size="13" text-anchor="start" fill="#fff">-</text>
<text x="948" y="31.3" font-size="21.5" text-anchor="start" fill="#fff" textLength="85.8" lengthAdjust="spacingAndGlyphs">pathway</text>
<text x="786.3" y="422.5" font-size="21.5" text-anchor="start" fill="#fff" textLength="97.5" lengthAdjust="spacingAndGlyphs">Urea-to-N</text>
<text x="884.8" y="428" font-size="14.5" text-anchor="start" fill="#fff">2</text>
<text x="899.5" y="422.5" font-size="21.5" text-anchor="start" fill="#fff" textLength="97.5" lengthAdjust="spacingAndGlyphs">pathways</text>
<text x="221.5" y="134.5" font-size="15.5" text-anchor="middle" fill="#000" textLength="73" lengthAdjust="spacingAndGlyphs">Abundant</text>
<text x="220.5" y="153.6" font-size="15" text-anchor="middle" fill="#000">OH<tspan dy="-6" font-size="9.5">-</tspan><tspan dy="6" font-size="1"> </tspan></text>
<text x="222" y="352.9" font-size="15.5" text-anchor="middle" fill="#000" textLength="82.8" lengthAdjust="spacingAndGlyphs">Insufficient</text>
<text x="220.5" y="371.3" font-size="15" text-anchor="middle" fill="#000">OH<tspan dy="-6" font-size="9.5">-</tspan><tspan dy="6" font-size="1"> </tspan></text>
<text x="55.2" y="184.2" font-size="19.8" text-anchor="start" fill="#000" letter-spacing="0.25">Cr-Ni<tspan dy="5" font-size="12.5">3</tspan><tspan dy="-5" font-size="1"> </tspan>S<tspan dy="5" font-size="12.5">2</tspan><tspan dy="-5" font-size="1"> </tspan></text>
<text x="71.2" y="397.6" font-size="20.6" text-anchor="start" fill="#000" letter-spacing="0.3">Ni<tspan dy="5" font-size="12.5">3</tspan><tspan dy="-5" font-size="1"> </tspan>S<tspan dy="5" font-size="12.5">2</tspan><tspan dy="-5" font-size="1"> </tspan></text>
<text x="499" y="191" font-size="15" text-anchor="middle" fill="#000">e<tspan dy="-6" font-size="9.5">-</tspan><tspan dy="6" font-size="1"> </tspan></text>
<text x="499" y="243.5" font-size="15" text-anchor="middle" fill="#000">e<tspan dy="-6" font-size="9.5">-</tspan><tspan dy="6" font-size="1"> </tspan></text>
<text x="636" y="166" font-size="16.3" text-anchor="middle" fill="#000">C-N</text>
<text x="633.3" y="186.5" font-size="16.3" text-anchor="middle" fill="#000" textLength="69.3" lengthAdjust="spacingAndGlyphs">cleavage</text>
<text x="691" y="94.9" font-size="14.5" text-anchor="middle" fill="#000">e<tspan dy="-6" font-size="9.5">-</tspan><tspan dy="6" font-size="1"> </tspan></text>
<text x="697.5" y="115.2" font-size="14.5" text-anchor="middle" fill="#000">2 OH<tspan dy="-6" font-size="9.5">-</tspan><tspan dy="6" font-size="1"> </tspan></text>
<text x="706" y="146.2" font-size="14.5" text-anchor="middle" fill="#000">2 H<tspan dy="3.5" font-size="9.5">2</tspan><tspan dy="-3.5" font-size="1"> </tspan>O</text>
<text x="787.8" y="97.2" font-size="20" text-anchor="middle" fill="#000" style="font-weight:normal">+</text>
<text x="901.9" y="115" font-size="15.5" text-anchor="middle" fill="#e8141c" textLength="149.7" lengthAdjust="spacingAndGlyphs">High value products</text>
<text x="869.8" y="149.3" font-size="16.5" text-anchor="start" fill="#000">4 e<tspan dy="-6" font-size="9.5">-</tspan><tspan dy="6" font-size="1"> </tspan></text>
<text x="915" y="149.3" font-size="16.5" text-anchor="start" fill="#000">5 OH<tspan dy="-6" font-size="9.5">-</tspan><tspan dy="6" font-size="1"> </tspan></text>
<text x="964.2" y="201.3" font-size="15.5" text-anchor="middle" fill="#000" textLength="146" lengthAdjust="spacingAndGlyphs">Low value products</text>
<text x="955.1" y="240.8" font-size="15.5" text-anchor="middle" fill="#000" textLength="108" lengthAdjust="spacingAndGlyphs">Intermolecular</text>
<text x="955" y="259.4" font-size="15.5" text-anchor="middle" fill="#000" textLength="97" lengthAdjust="spacingAndGlyphs">N-N coupling</text>
<text x="917.8" y="295.3" font-size="15.5" text-anchor="middle" fill="#000" textLength="146.7" lengthAdjust="spacingAndGlyphs">Low value products</text>
<text x="907.9" y="332.7" font-size="15.5" text-anchor="middle" fill="#000" textLength="108" lengthAdjust="spacingAndGlyphs">Intramolecular</text>
<text x="907.8" y="352.3" font-size="15.5" text-anchor="middle" fill="#000" textLength="95.7" lengthAdjust="spacingAndGlyphs">N-N coupling</text>
<text x="775.7" y="332.9" font-size="20" text-anchor="middle" fill="#000">*</text>
<text x="819.3" y="332.9" font-size="20" text-anchor="middle" fill="#000">*</text>
<text x="410.5" y="439.2" font-size="16.5" text-anchor="middle" fill="#000">Cr</text>
<text x="455.9" y="439.2" font-size="16.5" text-anchor="middle" fill="#000">Ni</text>
<text x="507.7" y="439.2" font-size="16.5" text-anchor="middle" fill="#000">C</text>
<text x="552.1" y="439.2" font-size="16.5" text-anchor="middle" fill="#000">N</text>
<text x="594.9" y="439.2" font-size="16.5" text-anchor="middle" fill="#000">O</text>
<text x="634.7" y="439.2" font-size="16.5" text-anchor="middle" fill="#000">S</text>
<text x="680.4" y="439.2" font-size="16.5" text-anchor="middle" fill="#000">H</text>
<text x="359" y="73.7" font-size="14.5" text-anchor="middle" fill="#f4f02a">OH</text>
<text x="360" y="91.7" font-size="14.5" text-anchor="middle" fill="#f4f02a" textLength="62" lengthAdjust="spacingAndGlyphs">Spillover</text>
<path d="M344 113 H358" stroke="#f4f02a" stroke-width="1.6" stroke-dasharray="3 2" fill="none"/><path d="M358 110 L364.5 113 L358 116 Z" fill="#f4f02a"/>
</svg>
</body></html>
